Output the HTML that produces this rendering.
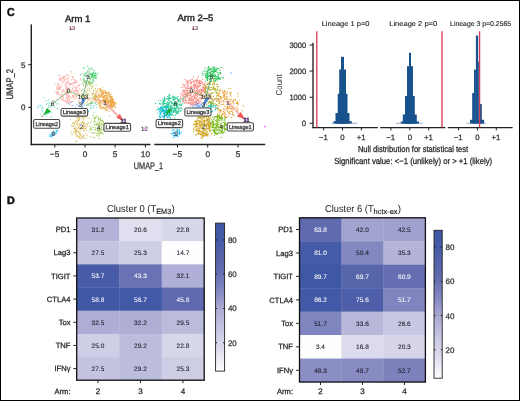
<!DOCTYPE html>
<html><head><meta charset="utf-8"><style>html,body{margin:0;padding:0;background:#fff;width:520px;height:401px;overflow:hidden;}svg{display:block;will-change:transform;text-rendering:geometricPrecision;}</style></head>
<body><svg width="520" height="401" viewBox="0 0 520 401" font-family='"Liberation Sans", sans-serif'><text x="6.9" y="15.5" font-size="11.6" font-weight="bold" textLength="7.6" lengthAdjust="spacingAndGlyphs" fill="#111" stroke="#111" stroke-width="0.5">C</text>
<text x="7.0" y="203.8" font-size="10.8" font-weight="bold" textLength="7.8" lengthAdjust="spacingAndGlyphs" fill="#111" stroke="#111" stroke-width="0.5">D</text>
<line x1="31.3" y1="24.4" x2="31.3" y2="145.2" stroke="#222" stroke-width="1.45"/>
<line x1="30.6" y1="144.4" x2="150.5" y2="144.4" stroke="#222" stroke-width="1.45"/>
<line x1="154.2" y1="144.4" x2="265.2" y2="144.4" stroke="#222" stroke-width="1.45"/>
<line x1="28.2" y1="64.7" x2="31" y2="64.7" stroke="#222" stroke-width="1"/>
<text x="25.5" y="67.5" font-size="8" text-anchor="end" fill="#333" stroke="#333" stroke-width="0.25">5</text>
<line x1="28.2" y1="107.4" x2="31" y2="107.4" stroke="#222" stroke-width="1"/>
<text x="25.5" y="110.2" font-size="8" text-anchor="end" fill="#333" stroke="#333" stroke-width="0.25">0</text>
<line x1="54.8" y1="144.5" x2="54.8" y2="147.5" stroke="#222" stroke-width="1"/>
<text x="54.599999999999994" y="156.6" font-size="8.3" text-anchor="middle" fill="#333" stroke="#333" stroke-width="0.25">−5</text>
<line x1="85.1" y1="144.5" x2="85.1" y2="147.5" stroke="#222" stroke-width="1"/>
<text x="85.1" y="156.6" font-size="8.3" text-anchor="middle" fill="#333" stroke="#333" stroke-width="0.25">0</text>
<line x1="115.1" y1="144.5" x2="115.1" y2="147.5" stroke="#222" stroke-width="1"/>
<text x="115.1" y="156.6" font-size="8.3" text-anchor="middle" fill="#333" stroke="#333" stroke-width="0.25">5</text>
<line x1="145.4" y1="144.5" x2="145.4" y2="147.5" stroke="#222" stroke-width="1"/>
<text x="145.4" y="156.6" font-size="8.3" text-anchor="middle" fill="#333" stroke="#333" stroke-width="0.25">10</text>
<line x1="177.5" y1="144.5" x2="177.5" y2="147.5" stroke="#222" stroke-width="1"/>
<text x="177.3" y="156.6" font-size="8.3" text-anchor="middle" fill="#333" stroke="#333" stroke-width="0.25">−5</text>
<line x1="207.7" y1="144.5" x2="207.7" y2="147.5" stroke="#222" stroke-width="1"/>
<text x="207.7" y="156.6" font-size="8.3" text-anchor="middle" fill="#333" stroke="#333" stroke-width="0.25">0</text>
<line x1="238.0" y1="144.5" x2="238.0" y2="147.5" stroke="#222" stroke-width="1"/>
<text x="238.0" y="156.6" font-size="8.3" text-anchor="middle" fill="#333" stroke="#333" stroke-width="0.25">5</text>
<text x="133.8" y="169.4" font-size="9.6" textLength="29.3" lengthAdjust="spacingAndGlyphs" fill="#333" stroke="#333" stroke-width="0.25">UMAP_1</text>
<text transform="translate(12.8,99.6) rotate(-90)" font-size="9.6" fill="#333" stroke="#333" stroke-width="0.3" textLength="30.7" lengthAdjust="spacingAndGlyphs">UMAP_2</text>
<text x="65" y="22.1" font-size="9.4" textLength="25.4" lengthAdjust="spacingAndGlyphs" fill="#222" stroke="#222" stroke-width="0.4">Arm 1</text>
<text x="177.5" y="21.1" font-size="9.4" textLength="35.8" lengthAdjust="spacingAndGlyphs" fill="#222" stroke="#222" stroke-width="0.4">Arm 2–5</text>
<path d="M65.9 93.9h.1M75.9 93.5h.1M78.0 93.4h.1M71.3 90.8h.1M70.0 84.6h.1M59.9 79.2h.1M54.8 100.7h.1M66.6 95.2h.1M70.1 83.6h.1M63.3 82.5h.1M71.6 90.8h.1M62.0 92.4h.1M61.7 91.2h.1M66.1 82.4h.1M56.9 86.9h.1M64.5 105.8h.1M68.2 83.5h.1M77.5 91.8h.1M57.9 83.2h.1M64.9 78.8h.1M57.4 92.5h.1M55.0 91.5h.1M60.8 77.9h.1M66.4 97.5h.1M77.2 90.5h.1M79.6 94.3h.1M57.1 99.4h.1M57.3 85.0h.1M72.2 83.4h.1M60.9 99.2h.1M70.9 93.8h.1M68.9 98.7h.1M67.9 89.9h.1M61.8 96.7h.1M64.9 79.6h.1M66.8 86.1h.1M70.1 76.1h.1M60.2 96.3h.1M71.3 90.6h.1M66.3 92.1h.1M76.2 96.1h.1M64.5 85.5h.1M62.2 98.7h.1M76.2 88.6h.1M71.3 91.3h.1M66.9 103.1h.1M78.7 85.0h.1M76.6 90.7h.1M74.5 80.2h.1M64.7 93.3h.1M57.6 86.5h.1M69.8 101.4h.1M74.5 79.0h.1M67.6 82.3h.1M66.5 91.2h.1M67.4 100.6h.1M57.0 93.4h.1M75.0 86.6h.1M69.0 97.1h.1M76.9 81.5h.1M59.8 75.3h.1M77.0 82.4h.1M63.0 89.8h.1M62.7 99.9h.1M62.0 94.4h.1M67.1 82.4h.1M80.4 79.2h.1M77.7 87.6h.1M62.0 86.8h.1M62.9 80.8h.1M57.8 94.3h.1M69.5 95.8h.1M68.5 99.7h.1M64.2 91.5h.1M63.1 96.5h.1M74.4 83.9h.1M59.2 88.9h.1M76.7 90.2h.1M69.5 83.5h.1M66.6 78.7h.1M59.1 87.8h.1M75.1 95.5h.1M66.2 101.1h.1M58.3 84.4h.1M59.2 92.8h.1M58.0 88.1h.1M59.9 87.0h.1M64.5 76.6h.1M67.5 99.5h.1M71.0 83.5h.1M75.1 93.0h.1M71.2 71.5h.1M65.6 84.5h.1M73.5 87.7h.1M61.3 94.8h.1M70.4 84.1h.1M59.6 88.0h.1M67.7 87.1h.1M66.5 89.7h.1M59.2 78.8h.1M71.4 73.0h.1M78.3 92.0h.1M73.4 95.6h.1M71.6 79.8h.1M57.8 83.4h.1M63.8 76.9h.1M58.0 75.9h.1M78.2 94.3h.1M63.3 97.8h.1M67.5 94.0h.1M68.3 94.2h.1M70.0 96.5h.1M68.4 81.5h.1M71.7 97.8h.1M78.2 90.2h.1M71.1 98.0h.1M76.5 96.8h.1M57.0 89.4h.1M58.1 88.5h.1M62.0 99.7h.1M63.0 82.3h.1M73.5 91.3h.1M67.8 96.9h.1M74.8 80.7h.1M68.3 96.6h.1M72.4 96.8h.1M79.5 85.7h.1M68.4 102.7h.1M67.8 89.4h.1M57.3 91.0h.1M75.6 89.3h.1M69.7 89.5h.1M69.0 99.7h.1M68.0 77.6h.1M73.4 83.0h.1M72.6 88.5h.1M66.4 86.7h.1M75.4 82.0h.1M69.7 84.2h.1M57.0 88.6h.1M72.2 79.5h.1M63.9 78.4h.1M72.3 90.0h.1M76.7 96.8h.1M61.4 81.0h.1M67.3 89.1h.1M67.9 79.1h.1M66.3 86.0h.1M68.0 92.8h.1M67.3 82.7h.1M76.3 87.5h.1M58.2 90.5h.1M59.8 80.3h.1M67.7 101.1h.1M66.5 88.2h.1M63.3 78.7h.1M65.8 98.7h.1M64.0 90.0h.1M71.7 102.1h.1M76.1 90.0h.1M75.9 87.1h.1M71.8 106.2h.1M73.5 96.9h.1M75.3 98.4h.1M75.6 81.3h.1M75.4 82.6h.1M60.0 89.5h.1M72.5 95.3h.1M68.3 88.5h.1M70.2 84.9h.1M65.4 76.1h.1M62.8 95.3h.1M61.9 84.5h.1M67.4 93.2h.1M65.4 102.2h.1M67.0 101.3h.1M78.9 85.4h.1M60.2 79.2h.1M54.8 84.1h.1M58.1 92.7h.1M67.4 92.0h.1M73.7 95.9h.1M64.9 100.5h.1M67.4 100.3h.1M59.8 85.4h.1M71.0 101.9h.1M70.1 102.1h.1M63.2 90.8h.1M66.0 92.5h.1M67.5 99.6h.1M68.0 80.0h.1M60.7 87.7h.1M73.8 91.8h.1M74.0 96.1h.1M71.6 84.1h.1M68.1 97.9h.1M78.6 85.3h.1M70.1 89.3h.1M74.5 83.1h.1M75.5 89.0h.1M73.1 77.5h.1M68.0 94.9h.1M63.2 76.6h.1M61.7 79.2h.1M65.7 88.1h.1M69.3 102.3h.1M66.6 93.7h.1M60.6 79.1h.1M58.9 87.4h.1M69.9 101.9h.1M56.6 92.4h.1M74.2 82.6h.1M68.2 102.7h.1M67.4 90.9h.1M64.4 80.9h.1M62.3 77.3h.1M74.8 90.7h.1M65.8 83.3h.1M67.2 74.7h.1M63.9 100.7h.1M69.9 101.0h.1M77.5 85.5h.1M59.5 94.7h.1M74.6 99.1h.1M70.1 92.1h.1M77.0 81.1h.1M79.6 88.8h.1M72.6 101.4h.1M77.6 91.3h.1M62.7 95.3h.1M66.7 97.2h.1M78.3 100.8h.1M72.7 77.6h.1M75.9 91.9h.1M72.6 86.0h.1M69.7 87.5h.1M72.4 76.4h.1M78.6 94.1h.1M67.8 75.7h.1M66.4 102.6h.1" stroke="#F8766D" stroke-width="1.2" stroke-linecap="round" stroke-opacity="0.6" fill="none"/>
<path d="M88.5 82.8h.1M88.9 76.5h.1M93.8 72.8h.1M92.3 76.6h.1M95.6 73.9h.1M89.0 81.2h.1M91.7 74.5h.1M88.5 68.8h.1M85.9 73.1h.1M84.3 82.3h.1M89.1 71.6h.1M85.2 74.5h.1M94.2 70.7h.1M90.9 77.3h.1M87.8 70.8h.1M84.2 79.1h.1M88.9 68.6h.1M93.6 81.1h.1M85.1 74.0h.1M90.1 79.8h.1M92.8 82.2h.1M87.0 80.5h.1M85.6 75.8h.1M84.0 67.7h.1M91.7 69.3h.1M93.3 77.3h.1M94.3 75.0h.1M84.5 81.4h.1M88.6 83.0h.1M93.3 79.8h.1M90.0 81.6h.1M88.8 82.2h.1M89.2 76.8h.1M87.7 72.9h.1M90.8 82.8h.1M91.1 77.0h.1M82.8 73.7h.1M87.5 71.2h.1M86.6 83.3h.1M85.2 74.1h.1M93.6 70.0h.1M91.1 83.1h.1M92.7 73.0h.1M83.5 80.2h.1M89.4 76.8h.1M83.4 68.2h.1M84.9 80.9h.1M80.5 74.7h.1M91.7 67.5h.1M95.5 73.2h.1M95.4 78.5h.1M93.5 72.4h.1M92.3 82.0h.1M83.7 80.2h.1M90.3 79.4h.1M83.9 75.3h.1M87.6 66.3h.1M89.1 74.4h.1M93.0 80.2h.1M86.3 72.8h.1M85.0 73.4h.1M83.2 78.3h.1M85.6 76.3h.1M90.1 69.3h.1M91.0 77.8h.1M92.9 78.9h.1M96.3 78.2h.1M90.1 68.8h.1M82.1 83.6h.1M95.0 75.8h.1M91.4 83.4h.1M97.9 73.2h.1M90.6 75.1h.1M89.1 72.8h.1M87.7 85.1h.1M91.8 74.2h.1M84.4 75.8h.1M92.6 82.6h.1M91.3 74.0h.1M92.8 79.9h.1" stroke="#00BA38" stroke-width="1.2" stroke-linecap="round" stroke-opacity="0.6" fill="none"/>
<path d="M92.2 76.8h.1M90.4 73.4h.1M92.7 73.9h.1M93.7 77.5h.1M92.3 76.7h.1M95.6 77.7h.1M93.9 77.0h.1M91.9 74.0h.1M94.7 75.0h.1M92.0 75.7h.1M95.0 75.9h.1M94.2 75.0h.1M95.4 75.9h.1M91.4 73.7h.1M92.9 75.1h.1M94.1 76.3h.1M95.8 73.4h.1M94.0 75.3h.1M92.4 74.4h.1M91.3 75.8h.1M94.0 78.1h.1M92.3 75.9h.1M96.2 75.1h.1M94.8 75.9h.1M91.6 74.9h.1M94.8 76.2h.1M96.7 75.7h.1M93.9 74.8h.1M93.9 73.3h.1M92.4 75.4h.1" stroke="#00BA38" stroke-width="1.2" stroke-linecap="round" stroke-opacity="0.6" fill="none"/>
<path d="M92.5 94.7h.1M85.5 82.6h.1M87.4 101.9h.1M89.4 84.6h.1M81.1 80.1h.1M92.1 93.6h.1M87.7 81.3h.1M84.5 103.0h.1M88.5 104.4h.1M85.7 83.8h.1M80.8 95.1h.1M91.3 86.8h.1M82.7 89.2h.1M95.5 99.0h.1M94.0 100.2h.1M89.1 95.1h.1M83.5 85.5h.1M93.6 96.7h.1M91.0 83.1h.1M94.8 97.5h.1M90.8 91.5h.1M95.2 95.4h.1M83.2 84.9h.1M87.2 98.0h.1M89.3 99.5h.1M92.0 93.8h.1M87.0 85.9h.1M93.5 91.1h.1M87.0 91.6h.1M81.5 97.1h.1M85.7 81.2h.1M94.7 99.5h.1M90.1 103.0h.1M93.6 93.2h.1M89.0 88.1h.1M83.8 102.0h.1M93.4 90.0h.1M85.3 93.0h.1M94.2 98.2h.1M89.5 83.7h.1M83.9 97.4h.1M95.6 99.8h.1M87.4 104.4h.1M82.5 100.8h.1M82.3 95.1h.1M88.1 83.4h.1M86.5 97.2h.1M83.5 82.0h.1M89.1 81.6h.1M91.5 88.3h.1M85.5 80.8h.1M88.1 99.9h.1M91.5 101.4h.1M87.7 89.2h.1M92.0 97.4h.1M89.9 83.1h.1M90.5 103.6h.1M86.9 94.4h.1M89.7 83.3h.1M83.2 85.1h.1M82.3 98.8h.1M82.5 96.9h.1M84.6 95.7h.1M93.1 85.8h.1M92.0 85.1h.1M83.7 94.9h.1M92.2 97.5h.1M86.5 83.7h.1M83.2 96.7h.1M82.5 98.3h.1M90.6 101.9h.1M83.7 98.4h.1M95.9 95.9h.1M95.0 88.9h.1M81.4 90.4h.1M83.3 84.6h.1M79.2 101.4h.1M80.1 102.5h.1M86.8 95.3h.1M87.3 93.8h.1M82.1 97.8h.1M87.6 98.7h.1M95.5 88.6h.1M84.1 97.8h.1M90.3 84.1h.1M84.5 90.8h.1M84.1 100.6h.1M90.2 85.5h.1M85.3 91.7h.1M83.5 101.8h.1M85.1 97.2h.1M88.2 93.6h.1M87.2 98.8h.1M82.8 94.0h.1M85.4 86.9h.1M89.2 90.7h.1M96.2 84.8h.1M87.1 91.4h.1M85.4 87.3h.1M88.7 103.5h.1M92.4 102.3h.1M91.7 102.9h.1M89.3 83.4h.1M90.3 78.7h.1M81.2 91.0h.1M92.4 87.0h.1M88.3 97.5h.1M94.5 96.7h.1M82.1 93.1h.1M95.3 93.5h.1" stroke="#A3A500" stroke-width="1.2" stroke-linecap="round" stroke-opacity="0.6" fill="none"/>
<path d="M96.7 100.1h.1M104.4 107.0h.1M111.4 100.6h.1M110.1 98.0h.1M105.6 95.0h.1M99.1 102.7h.1M110.8 98.1h.1M106.7 110.6h.1M100.2 104.5h.1M109.8 106.1h.1M96.1 100.7h.1M101.8 92.7h.1M108.6 108.0h.1M95.2 94.5h.1M106.3 106.3h.1M92.1 94.1h.1M104.0 90.7h.1M107.0 98.2h.1M96.1 97.4h.1M105.2 92.5h.1M95.7 96.3h.1M99.6 96.4h.1M99.6 107.3h.1M111.1 98.2h.1M98.0 96.2h.1M99.7 91.4h.1M107.2 107.5h.1M101.8 106.9h.1M111.5 99.4h.1M100.6 91.2h.1M103.6 100.9h.1M94.7 98.1h.1M99.5 105.3h.1M107.8 104.0h.1M100.7 97.2h.1M113.8 101.8h.1M99.8 95.3h.1M106.1 101.8h.1M95.9 91.4h.1M111.5 101.1h.1M99.6 106.8h.1M108.4 93.6h.1M93.2 93.5h.1M100.6 95.9h.1M102.6 101.3h.1M97.9 99.5h.1M112.8 105.0h.1M96.1 95.6h.1M104.0 109.3h.1M99.6 91.4h.1M112.7 99.7h.1M102.0 93.3h.1M109.0 94.5h.1M107.0 107.6h.1M104.4 108.9h.1M104.6 90.9h.1M107.4 97.7h.1M95.4 98.6h.1M111.6 98.5h.1M103.2 91.7h.1M102.1 89.9h.1M105.3 92.8h.1M101.7 94.8h.1M105.4 95.8h.1M96.2 93.9h.1M97.4 90.5h.1M112.5 101.5h.1M110.2 107.7h.1M104.0 92.4h.1M99.2 99.1h.1M98.5 94.7h.1M103.1 107.9h.1M109.2 96.1h.1M101.7 95.5h.1M106.0 109.1h.1M109.7 95.1h.1M99.4 99.9h.1M101.6 108.6h.1M100.1 88.6h.1M108.1 99.0h.1M110.4 99.3h.1M99.7 107.0h.1M110.9 100.0h.1M113.7 103.9h.1M96.8 100.0h.1M97.9 95.5h.1M113.6 106.4h.1M105.7 101.9h.1M106.0 110.7h.1M103.4 97.5h.1M96.9 92.6h.1M107.3 99.8h.1M106.7 93.2h.1M93.9 98.0h.1M106.5 103.8h.1M110.3 104.6h.1M110.7 96.5h.1M105.2 95.9h.1M102.6 87.0h.1M113.3 102.2h.1M97.3 97.0h.1M101.4 92.0h.1M110.3 103.5h.1M100.7 100.3h.1M109.2 108.5h.1M101.9 91.6h.1M109.6 115.9h.1M112.3 99.5h.1M110.1 106.4h.1M107.2 104.9h.1M110.1 94.8h.1M109.2 101.3h.1M111.5 99.5h.1M104.7 99.2h.1M105.4 106.0h.1M100.7 101.2h.1M104.8 95.6h.1M108.2 102.2h.1M99.6 95.4h.1M97.1 97.8h.1M111.0 107.0h.1M100.2 90.1h.1M98.8 93.6h.1M111.8 99.4h.1M101.5 89.4h.1M110.9 96.6h.1M103.4 92.2h.1M104.5 104.4h.1M103.3 99.9h.1M100.4 107.6h.1M100.1 89.2h.1M98.6 94.3h.1M112.3 99.8h.1M99.5 103.5h.1M102.8 100.3h.1M108.3 104.9h.1M103.0 97.3h.1M105.2 101.1h.1M97.3 99.4h.1M113.1 102.6h.1M106.9 99.5h.1M99.7 103.0h.1M111.6 103.9h.1M111.5 104.3h.1M112.9 106.2h.1M103.9 106.7h.1M99.2 101.8h.1M100.4 93.4h.1M106.0 107.6h.1M99.4 88.9h.1M103.5 97.4h.1M108.2 93.0h.1M102.2 107.2h.1M101.9 100.6h.1M102.6 100.9h.1M97.9 89.1h.1M99.7 89.1h.1M110.4 98.2h.1M99.0 96.0h.1M105.9 92.9h.1M99.1 102.1h.1M107.2 106.3h.1M111.6 103.1h.1M100.3 101.9h.1M100.5 101.0h.1M107.4 107.3h.1M106.3 103.1h.1M101.8 91.1h.1M99.6 97.3h.1M100.6 105.2h.1M101.2 103.7h.1M110.1 106.9h.1M103.0 99.8h.1M103.3 94.6h.1M100.7 102.8h.1M109.2 111.4h.1M103.3 91.1h.1M100.6 108.3h.1M108.7 92.5h.1M105.7 109.3h.1M102.0 89.7h.1M97.2 91.1h.1M99.3 105.5h.1M104.7 96.7h.1M109.9 96.2h.1M97.7 104.6h.1M102.2 108.2h.1M98.0 98.1h.1M100.3 106.1h.1M103.7 107.7h.1M107.4 110.3h.1M98.7 103.7h.1M111.5 104.2h.1M113.1 101.6h.1M101.6 89.6h.1M109.9 105.8h.1M105.5 99.2h.1M97.8 104.6h.1M95.9 101.9h.1M97.9 102.8h.1M105.3 108.6h.1M107.1 93.6h.1M109.9 101.5h.1M97.3 100.2h.1M107.3 95.2h.1M94.1 95.7h.1M95.4 102.7h.1M109.0 94.6h.1M113.3 103.1h.1M100.1 88.5h.1M103.1 103.6h.1M98.1 103.1h.1M96.3 96.4h.1M110.2 95.0h.1M100.8 93.7h.1M107.7 97.6h.1M94.1 98.4h.1M99.5 100.4h.1M96.1 102.4h.1M103.2 104.5h.1M108.0 101.2h.1M101.0 90.9h.1M105.0 100.0h.1M107.2 109.8h.1M111.1 105.2h.1M98.5 99.2h.1M104.0 102.4h.1M94.8 98.7h.1M97.0 97.2h.1M102.9 93.7h.1" stroke="#E58700" stroke-width="1.2" stroke-linecap="round" stroke-opacity="0.6" fill="none"/>
<path d="M106.3 95.6h.1M109.9 96.8h.1M111.3 104.5h.1M111.2 103.7h.1M104.8 103.2h.1M113.6 104.5h.1M111.8 107.6h.1M108.2 105.1h.1M106.4 95.3h.1M111.4 103.1h.1M112.2 99.0h.1M114.6 104.5h.1M107.2 97.2h.1M105.5 91.4h.1M104.4 95.8h.1M113.9 106.2h.1M113.2 106.2h.1M112.6 107.2h.1M108.5 103.7h.1M115.1 107.8h.1M105.2 100.4h.1M108.3 105.7h.1M110.4 105.7h.1M107.0 95.7h.1M112.8 101.8h.1M105.3 101.9h.1M110.0 102.4h.1M110.7 105.0h.1M103.8 92.7h.1M112.6 102.5h.1M104.1 97.1h.1M102.5 96.1h.1M106.9 95.4h.1M110.2 101.9h.1M102.8 93.4h.1M110.9 102.1h.1M108.1 101.4h.1M105.2 98.4h.1M103.0 99.5h.1M106.6 104.6h.1M111.8 97.4h.1M108.9 101.6h.1M106.6 99.5h.1M116.2 103.2h.1M106.5 97.8h.1M108.0 105.9h.1M109.3 102.3h.1M106.8 105.7h.1M103.0 93.5h.1M107.4 101.1h.1M107.0 104.1h.1M115.7 103.9h.1M106.2 96.0h.1M110.4 96.6h.1M109.3 101.8h.1M107.7 102.8h.1M113.5 103.1h.1M110.7 103.5h.1M106.0 105.0h.1M112.5 109.6h.1M110.2 107.1h.1M106.0 96.9h.1M103.7 98.7h.1M107.2 97.3h.1M108.7 104.1h.1M113.2 105.1h.1M111.7 101.5h.1M108.6 103.4h.1M112.5 96.2h.1M111.3 96.4h.1M107.3 102.4h.1M112.2 97.6h.1M101.7 96.8h.1M110.8 104.1h.1M103.9 92.9h.1M113.1 104.5h.1M108.6 97.6h.1M105.8 93.2h.1M113.8 105.1h.1M108.8 105.5h.1M106.4 95.0h.1M102.1 97.0h.1M108.5 93.7h.1M106.4 101.1h.1M106.3 99.7h.1M112.4 103.2h.1M109.2 100.3h.1M115.5 106.9h.1M106.6 93.3h.1M111.4 106.4h.1M107.3 103.5h.1M102.1 95.5h.1M111.6 102.6h.1M104.1 99.9h.1M109.9 105.3h.1M108.6 94.0h.1M110.2 96.4h.1M112.7 100.0h.1M110.8 106.0h.1M105.2 103.0h.1M110.2 108.5h.1M102.3 95.2h.1M108.7 105.6h.1M104.2 101.1h.1M110.8 101.1h.1M106.2 100.2h.1M109.6 102.3h.1M111.6 105.2h.1M113.5 106.7h.1M106.2 99.6h.1M112.0 100.5h.1M103.3 100.4h.1M114.5 102.7h.1M113.8 101.9h.1M114.4 105.0h.1M106.4 97.1h.1M110.8 100.0h.1M112.2 98.0h.1M104.0 95.9h.1M101.9 97.2h.1M109.3 92.2h.1M109.8 106.8h.1M107.0 97.2h.1M102.7 93.1h.1M113.4 99.2h.1M106.8 97.3h.1M103.9 96.7h.1M106.1 93.4h.1M115.5 102.9h.1M111.3 106.5h.1M114.2 103.8h.1M102.3 94.8h.1M111.4 98.3h.1M107.1 92.4h.1M105.5 93.5h.1M106.7 101.6h.1M108.0 106.4h.1M112.9 100.7h.1M106.4 99.6h.1M105.7 103.3h.1M108.1 100.6h.1M108.3 101.1h.1M109.0 99.0h.1M110.4 104.0h.1M111.6 105.7h.1M111.3 93.9h.1M103.7 92.8h.1M102.8 97.2h.1M111.8 106.9h.1M109.5 95.5h.1" stroke="#E58700" stroke-width="1.2" stroke-linecap="round" stroke-opacity="0.6" fill="none"/>
<path d="M80.6 115.3h.1M76.9 120.4h.1M78.4 127.7h.1M76.5 137.1h.1M77.3 130.6h.1M77.6 131.3h.1M74.9 128.4h.1M78.7 131.9h.1M77.5 135.9h.1M84.3 123.2h.1M77.4 123.7h.1M84.8 125.4h.1M71.5 132.4h.1M83.4 122.1h.1M83.2 126.7h.1M78.9 120.4h.1M81.9 135.2h.1M77.9 121.6h.1M88.4 122.9h.1M83.9 120.0h.1M72.7 123.3h.1M83.3 123.3h.1M80.0 115.9h.1M77.5 117.8h.1M86.1 128.8h.1M73.8 126.3h.1M79.1 126.3h.1M70.4 119.6h.1M79.1 117.8h.1M86.1 137.8h.1M74.8 130.3h.1M73.9 122.6h.1M76.7 135.4h.1M78.3 115.4h.1M77.4 136.2h.1M76.0 127.9h.1M83.4 123.9h.1M76.1 116.9h.1M83.8 125.6h.1M81.3 127.3h.1M71.5 125.8h.1M77.2 130.9h.1M83.9 122.7h.1M80.4 138.4h.1M76.9 120.5h.1M75.6 127.8h.1M87.1 134.9h.1M72.1 134.7h.1M73.5 132.4h.1M77.4 121.8h.1M79.6 134.2h.1M82.0 136.4h.1M76.9 141.5h.1M84.1 135.7h.1M79.2 136.8h.1M79.1 133.0h.1M82.5 122.8h.1M75.6 121.2h.1M82.7 122.2h.1M75.5 134.5h.1M83.1 136.6h.1M79.5 128.7h.1M90.4 127.0h.1M82.7 129.0h.1M83.9 129.9h.1M78.4 114.5h.1M83.8 127.2h.1M79.4 123.7h.1M80.7 135.0h.1M84.5 125.6h.1M85.1 133.5h.1M83.9 138.7h.1M77.3 126.0h.1M72.3 126.3h.1M81.7 138.0h.1M79.4 118.3h.1M81.5 127.1h.1M75.0 131.1h.1M86.6 126.7h.1M74.3 123.5h.1M87.4 124.7h.1M76.4 130.2h.1M84.9 124.7h.1M77.4 128.5h.1M86.2 126.3h.1M79.8 135.8h.1M80.3 133.8h.1M82.2 110.4h.1M77.1 135.0h.1M75.7 141.4h.1M83.5 118.9h.1M83.9 125.8h.1M79.8 118.3h.1M75.4 131.6h.1M78.0 119.6h.1M76.4 124.4h.1M79.3 137.9h.1M79.0 117.1h.1M80.5 130.6h.1M74.3 124.4h.1M82.1 118.2h.1M73.8 128.5h.1M87.2 117.1h.1M84.1 114.7h.1M80.0 130.0h.1M81.9 117.5h.1M84.3 130.1h.1M78.2 118.1h.1M82.8 112.1h.1M76.1 132.7h.1M76.8 131.3h.1M83.6 126.6h.1M83.2 127.9h.1M79.3 133.0h.1M81.2 122.7h.1M82.3 121.6h.1M81.7 116.5h.1M85.1 128.3h.1M79.0 119.4h.1M75.7 117.0h.1M75.4 132.3h.1M82.8 137.5h.1M75.5 133.3h.1M86.3 130.7h.1M74.4 124.6h.1M80.1 124.0h.1M74.7 128.0h.1M75.3 130.4h.1M74.8 129.2h.1M83.0 116.9h.1M78.7 127.5h.1M73.4 122.4h.1M83.8 131.5h.1M81.9 128.2h.1M78.3 124.8h.1M78.2 114.7h.1M74.7 130.7h.1M83.7 113.0h.1M79.4 125.9h.1M79.4 132.3h.1M79.8 137.6h.1M73.8 125.3h.1M84.8 117.7h.1M79.8 133.2h.1M76.2 132.1h.1M75.8 122.2h.1M82.4 137.4h.1M84.3 128.2h.1M74.9 131.1h.1M78.9 137.0h.1" stroke="#C99800" stroke-width="1.2" stroke-linecap="round" stroke-opacity="0.6" fill="none"/>
<path d="M95.4 117.3h.1M90.0 128.7h.1M98.3 124.3h.1M95.9 124.3h.1M104.4 130.8h.1M90.8 122.7h.1M94.2 118.7h.1M99.4 138.6h.1M97.9 130.2h.1M101.6 124.0h.1M96.7 135.5h.1M98.0 128.0h.1M103.6 128.4h.1M97.6 133.6h.1M94.3 124.5h.1M92.7 137.3h.1M102.7 125.0h.1M94.8 122.3h.1M101.3 129.8h.1M89.2 130.9h.1M102.2 132.7h.1M102.1 123.3h.1M93.2 133.1h.1M99.1 124.7h.1M100.8 120.2h.1M99.4 128.0h.1M102.4 120.3h.1M98.2 125.2h.1M101.3 124.8h.1M96.1 124.1h.1M93.5 127.5h.1M99.9 134.0h.1M103.6 130.1h.1M98.4 118.5h.1M104.0 128.0h.1M100.9 131.6h.1M92.0 132.7h.1M101.0 123.9h.1M101.1 120.4h.1M98.9 123.6h.1M94.5 125.2h.1M99.8 132.3h.1M94.8 129.3h.1M97.8 129.4h.1M100.7 120.9h.1M104.3 126.9h.1M98.4 118.7h.1M98.0 136.2h.1M101.6 127.2h.1M94.6 137.9h.1M97.6 133.7h.1M96.5 123.6h.1M89.1 118.4h.1M94.6 117.6h.1M98.9 119.7h.1M104.3 126.7h.1M95.1 127.6h.1M96.2 116.0h.1M99.6 130.2h.1M104.4 124.5h.1M91.8 126.9h.1M102.4 121.3h.1M98.9 133.5h.1M97.5 123.0h.1M95.2 129.3h.1M92.8 115.4h.1M103.6 122.3h.1M100.3 118.2h.1M90.7 129.6h.1M99.8 122.0h.1M86.7 123.2h.1M97.9 121.1h.1M97.4 130.4h.1M97.4 133.0h.1M94.5 118.3h.1M98.4 117.3h.1M103.4 122.7h.1M102.2 130.2h.1M93.9 132.5h.1M97.1 125.4h.1M99.5 126.3h.1M91.9 129.8h.1M95.2 130.0h.1M100.3 119.5h.1M100.3 128.7h.1M91.3 128.9h.1M103.2 133.9h.1M98.6 130.8h.1M94.7 129.6h.1M91.5 120.0h.1M89.7 126.0h.1M100.3 125.7h.1M100.3 133.2h.1M101.8 123.7h.1M97.0 133.7h.1M100.5 120.5h.1M103.4 121.9h.1M102.3 129.6h.1M101.4 124.4h.1M93.9 121.5h.1M93.8 117.5h.1M90.2 136.4h.1M94.7 119.2h.1M97.0 116.6h.1M97.0 124.1h.1M101.8 133.4h.1M100.5 132.0h.1M101.5 127.8h.1M94.5 121.9h.1M95.6 133.1h.1M103.0 124.9h.1M94.9 120.5h.1M95.4 118.0h.1M100.0 132.5h.1M98.5 118.7h.1M99.2 123.2h.1M99.4 131.9h.1M91.5 132.6h.1M98.6 131.1h.1M98.4 131.4h.1M100.0 129.2h.1M91.5 132.5h.1M99.0 135.1h.1M100.1 119.2h.1M95.8 129.6h.1" stroke="#6BB100" stroke-width="1.2" stroke-linecap="round" stroke-opacity="0.6" fill="none"/>
<path d="M50.6 136.3h.1M53.0 132.8h.1M55.8 130.8h.1M51.6 134.2h.1M57.5 130.7h.1M51.9 136.6h.1M53.8 133.8h.1M52.7 132.4h.1M53.7 132.7h.1M50.1 134.6h.1M51.3 133.5h.1M56.5 130.3h.1M51.2 136.7h.1M56.0 133.3h.1M50.0 136.2h.1M56.1 132.5h.1M49.6 136.7h.1M50.8 135.1h.1M53.9 135.2h.1M54.0 132.3h.1M52.8 132.5h.1M55.9 130.4h.1M49.2 134.8h.1M51.7 133.3h.1M56.8 131.4h.1M53.7 134.3h.1M56.9 131.7h.1M53.7 132.1h.1M57.4 131.1h.1M57.5 130.2h.1M56.4 131.6h.1M53.6 133.0h.1M55.4 132.6h.1M52.7 135.2h.1M55.9 134.2h.1M54.0 131.0h.1M56.6 131.2h.1M56.9 131.3h.1M50.9 135.0h.1M51.5 134.6h.1M57.3 130.3h.1M52.2 137.1h.1M55.9 132.6h.1M52.1 133.3h.1M55.1 133.4h.1M55.6 133.5h.1M51.9 135.2h.1M54.7 133.5h.1" stroke="#00B0F6" stroke-width="1.2" stroke-linecap="round" stroke-opacity="0.6" fill="none"/>
<path d="M43.7 97.6h.1M57.0 103.9h.1M46.4 104.3h.1M53.1 100.6h.1M46.3 114.8h.1M54.1 106.7h.1M40.6 114.5h.1M43.1 108.0h.1M48.3 100.2h.1M55.3 102.3h.1M49.2 102.8h.1M42.0 106.8h.1M57.4 108.3h.1M57.3 103.7h.1M46.2 100.8h.1M49.6 103.4h.1" stroke="#00BF7D" stroke-width="1.2" stroke-linecap="round" stroke-opacity="0.6" fill="none"/>
<path d="M37.6 107.5h.1M47.2 103.5h.1M42.4 110.5h.1M38.3 105.7h.1M42.1 108.2h.1M51.7 107.4h.1M48.1 113.5h.1M38.1 107.7h.1M42.6 111.8h.1M51.5 112.8h.1M41.1 105.0h.1M40.1 105.6h.1M51.0 116.9h.1M49.5 112.5h.1M45.8 116.0h.1M48.6 105.3h.1" stroke="#00BCD8" stroke-width="1.2" stroke-linecap="round" stroke-opacity="0.6" fill="none"/>
<path d="M78.7 105.3h.1M76.7 104.0h.1M79.8 104.1h.1M82.5 103.5h.1M75.6 107.4h.1M83.1 107.7h.1M80.0 109.8h.1M82.3 107.5h.1M76.4 104.9h.1M68.3 103.6h.1M70.9 102.6h.1M77.9 105.5h.1M74.0 108.7h.1M84.1 105.6h.1M73.0 105.4h.1M78.3 109.1h.1M69.1 104.0h.1M82.0 100.9h.1M72.6 109.9h.1M84.8 104.4h.1M81.7 107.5h.1M70.0 104.6h.1" stroke="#619CFF" stroke-width="1.2" stroke-linecap="round" stroke-opacity="0.6" fill="none"/>
<path d="M86.7 105.4h.1M90.3 103.6h.1M95.1 103.2h.1M93.7 105.3h.1M93.9 112.4h.1M90.1 105.6h.1M88.1 110.9h.1M96.6 107.5h.1M91.5 103.4h.1M91.1 105.4h.1M90.1 108.4h.1M96.1 104.9h.1M91.8 103.6h.1M93.0 103.1h.1M88.8 111.6h.1M82.4 106.5h.1M88.0 105.0h.1M85.4 110.6h.1M93.5 107.6h.1M91.7 107.7h.1" stroke="#00C0AF" stroke-width="1.2" stroke-linecap="round" stroke-opacity="0.6" fill="none"/>
<path d="M70.7 28.0h.1M70.6 28.4h.1M71.0 28.6h.1M72.2 29.1h.1M71.9 28.9h.1" stroke="#FD61D1" stroke-width="1.2" stroke-linecap="round" stroke-opacity="0.6" fill="none"/>
<path d="M144.1 128.4h.1M144.4 129.3h.1M144.2 129.4h.1M145.3 128.8h.1M144.6 128.5h.1" stroke="#E76BF3" stroke-width="1.2" stroke-linecap="round" stroke-opacity="0.6" fill="none"/>
<path d="M122.5 121.0h.1M123.4 120.1h.1M122.5 121.8h.1M123.7 121.6h.1M123.1 119.9h.1M124.0 120.2h.1M122.3 119.9h.1M124.7 121.2h.1M122.8 119.8h.1M123.7 120.6h.1" stroke="#B983FF" stroke-width="1.2" stroke-linecap="round" stroke-opacity="0.6" fill="none"/>
<path d="M198.0 103.7h.1M195.0 87.1h.1M191.1 99.7h.1M196.6 97.6h.1M189.8 99.1h.1M192.5 99.2h.1M185.5 97.5h.1M196.4 90.5h.1M199.8 86.6h.1M197.4 99.7h.1M196.2 95.5h.1M194.4 98.3h.1M195.3 95.0h.1M182.9 90.6h.1M197.6 96.3h.1M186.4 84.1h.1M197.4 89.5h.1M187.2 88.0h.1M193.4 95.8h.1M202.0 90.4h.1M199.1 98.2h.1M192.8 102.8h.1M198.7 103.4h.1M194.0 93.4h.1M192.4 91.2h.1M196.9 82.5h.1M185.6 89.0h.1M196.7 103.1h.1M197.7 80.1h.1M198.9 90.3h.1M187.1 80.2h.1M201.3 97.2h.1M197.5 82.3h.1M180.4 96.9h.1M191.6 101.0h.1M202.2 91.8h.1M191.8 86.6h.1M192.8 105.3h.1M191.1 104.9h.1M187.2 94.2h.1M202.5 96.9h.1M202.4 95.1h.1M185.3 91.9h.1M196.5 100.6h.1M195.0 96.6h.1M186.0 81.3h.1M195.0 101.9h.1M183.1 95.4h.1M204.2 84.9h.1M204.6 91.2h.1M194.8 93.4h.1M187.0 103.2h.1M185.5 93.9h.1M200.6 83.5h.1M196.4 97.6h.1M187.8 83.1h.1M201.2 92.5h.1M190.7 88.2h.1M191.6 98.1h.1M182.8 85.5h.1M191.0 83.9h.1M194.8 90.9h.1M193.5 80.9h.1M194.4 104.9h.1M191.7 100.6h.1M193.0 100.5h.1M199.5 89.9h.1M185.5 97.9h.1M196.4 98.7h.1M197.5 94.5h.1M190.7 92.7h.1M202.9 91.4h.1M195.2 80.9h.1M204.3 97.4h.1M204.1 92.8h.1M191.5 82.2h.1M199.1 92.5h.1M190.1 97.5h.1M188.5 82.1h.1M190.1 86.2h.1M195.7 84.4h.1M194.9 104.9h.1M189.3 102.3h.1M197.4 93.8h.1M198.4 92.6h.1M188.3 88.8h.1M187.5 90.7h.1M194.5 95.9h.1M194.4 85.2h.1M195.8 84.3h.1M193.8 104.8h.1M197.4 95.0h.1M184.5 96.6h.1M202.8 79.2h.1M193.7 103.1h.1M198.6 84.8h.1M190.1 87.8h.1M198.4 100.8h.1M190.6 100.1h.1M194.5 89.7h.1M192.6 99.1h.1M194.3 81.6h.1M193.2 99.4h.1M191.9 96.9h.1M199.5 81.0h.1M204.4 92.5h.1M184.5 103.2h.1M195.5 94.2h.1M196.4 104.2h.1M187.4 91.5h.1M187.9 88.6h.1M184.3 85.9h.1M186.2 95.7h.1M193.4 85.9h.1M184.4 90.3h.1M186.8 96.3h.1M205.6 90.5h.1M191.3 82.7h.1M198.2 90.7h.1M190.4 83.4h.1M198.9 82.1h.1M201.5 104.2h.1M196.4 87.0h.1M195.2 101.4h.1M194.5 97.4h.1M185.9 93.5h.1M197.9 92.6h.1M197.8 79.8h.1M182.8 90.3h.1M189.2 99.8h.1M195.8 85.3h.1M199.0 101.9h.1M191.7 98.4h.1M198.3 93.2h.1M190.3 96.0h.1M189.8 95.7h.1M202.2 83.0h.1M203.2 96.2h.1M205.2 87.8h.1M203.1 84.7h.1M187.5 96.2h.1M190.3 94.0h.1M201.4 89.7h.1M203.7 87.4h.1M204.5 89.6h.1M196.7 80.6h.1M190.1 102.2h.1M197.5 88.8h.1M185.4 100.0h.1M203.1 84.3h.1M197.3 103.9h.1M193.3 77.1h.1M188.0 86.9h.1M200.0 81.7h.1M192.8 99.7h.1M198.7 100.4h.1M192.9 96.7h.1M193.4 101.0h.1M201.7 81.5h.1M190.3 80.6h.1M203.8 88.3h.1M204.8 85.8h.1M200.6 85.3h.1M183.1 94.8h.1M193.0 100.0h.1M207.8 92.6h.1M201.3 97.1h.1M196.0 80.9h.1M201.8 83.3h.1M191.7 103.4h.1M191.7 104.4h.1M186.8 93.0h.1M199.3 91.2h.1M183.8 102.3h.1M181.3 87.4h.1M202.1 94.9h.1M194.2 104.6h.1M198.9 80.4h.1M200.8 90.6h.1M204.9 87.8h.1M183.9 87.4h.1M196.4 101.8h.1M184.9 93.8h.1M189.9 99.7h.1M189.7 91.5h.1M196.0 80.6h.1M189.3 103.8h.1M199.2 90.2h.1M196.2 80.6h.1M195.0 85.1h.1M196.7 91.5h.1M189.2 92.3h.1M193.8 87.1h.1M190.6 79.8h.1M197.3 85.0h.1M184.9 94.7h.1M195.0 99.0h.1M186.3 101.0h.1M182.4 93.0h.1M204.5 91.5h.1M195.7 98.9h.1M201.3 92.8h.1M187.0 93.3h.1M189.6 93.9h.1M193.4 91.3h.1M195.9 84.2h.1M201.4 90.3h.1M188.3 100.1h.1M198.3 76.4h.1M203.0 85.0h.1M193.6 84.3h.1M187.6 86.5h.1M206.4 87.1h.1M186.0 90.4h.1M200.7 89.2h.1M203.4 90.5h.1M188.2 97.6h.1M197.5 86.1h.1M187.2 95.2h.1M189.1 88.4h.1M197.5 88.1h.1M200.1 95.4h.1M195.6 99.1h.1M196.9 80.9h.1M202.7 91.7h.1M200.4 101.7h.1M193.5 103.5h.1M190.6 93.6h.1M197.8 82.3h.1M196.5 93.8h.1M195.5 79.8h.1M194.3 102.3h.1M200.9 92.9h.1M186.7 92.9h.1M190.6 104.9h.1M194.7 85.6h.1M182.8 100.7h.1M193.9 89.6h.1M199.5 83.4h.1M202.6 87.6h.1M182.9 96.5h.1M204.1 89.3h.1M181.2 98.4h.1M200.9 80.6h.1M184.5 94.6h.1M196.0 83.6h.1M205.2 92.3h.1M188.7 98.1h.1M204.2 88.5h.1M202.8 82.3h.1M186.4 100.6h.1M191.9 87.6h.1M188.2 90.4h.1M200.8 101.4h.1M196.3 102.9h.1M202.9 89.2h.1M197.5 91.5h.1M198.3 100.0h.1M184.0 92.7h.1M197.3 78.6h.1M195.2 85.9h.1M190.1 99.2h.1M205.7 91.2h.1M187.1 83.8h.1M183.2 91.7h.1M205.0 91.8h.1M197.6 106.8h.1M183.4 84.0h.1M188.5 95.0h.1M203.3 98.3h.1M196.1 91.1h.1M184.3 90.8h.1M183.1 101.3h.1M197.8 87.5h.1M190.1 95.6h.1M183.9 90.4h.1M199.5 90.5h.1M188.9 80.9h.1M191.1 83.3h.1M190.3 92.2h.1M200.6 83.3h.1M191.7 100.9h.1M208.9 93.1h.1M187.7 86.2h.1M185.9 90.9h.1M186.0 97.0h.1M191.3 87.9h.1M183.5 98.6h.1M196.5 101.4h.1M185.7 96.0h.1M199.3 95.3h.1M190.9 83.1h.1M194.0 84.0h.1M191.2 83.1h.1M193.3 84.2h.1M186.4 102.7h.1M197.8 92.6h.1M192.5 105.2h.1M193.0 81.3h.1M203.1 94.7h.1M196.4 92.9h.1M200.4 92.8h.1M200.8 95.0h.1M186.9 81.3h.1M194.6 109.1h.1M188.6 103.4h.1M185.2 101.4h.1M194.2 88.6h.1M197.7 92.8h.1M191.7 96.6h.1M192.3 79.4h.1M202.7 94.7h.1M195.5 102.9h.1M184.1 99.0h.1M195.7 98.4h.1M197.1 87.7h.1M188.3 85.1h.1M192.6 90.9h.1M190.8 103.3h.1M199.6 86.0h.1M187.5 95.0h.1M191.8 102.8h.1M185.7 92.0h.1M191.2 86.8h.1M191.2 94.7h.1M187.5 93.3h.1M201.0 91.2h.1M185.4 101.1h.1M188.5 92.9h.1M204.6 83.4h.1M200.0 97.9h.1M199.1 101.3h.1M189.7 90.0h.1M180.5 93.8h.1M199.0 94.0h.1M193.7 95.9h.1M200.4 94.0h.1M193.5 85.9h.1M194.1 82.2h.1M184.9 84.9h.1M198.3 99.5h.1M193.5 102.9h.1M198.4 86.4h.1M201.4 83.2h.1M197.5 101.8h.1M184.2 79.4h.1M196.6 88.4h.1M200.6 98.0h.1M185.7 98.7h.1M195.0 85.0h.1M193.0 92.1h.1M205.9 84.2h.1M194.8 87.5h.1M193.9 91.0h.1M204.9 85.8h.1M204.3 88.8h.1M187.3 82.1h.1M205.3 91.7h.1M187.5 90.5h.1M186.0 88.3h.1M189.5 100.4h.1M181.8 94.9h.1M188.5 102.4h.1M198.8 83.6h.1M202.4 90.4h.1M189.4 99.2h.1M200.0 85.1h.1M192.7 100.9h.1M189.2 98.3h.1M195.6 86.1h.1M199.5 82.7h.1M190.9 81.9h.1M201.2 99.2h.1M185.8 87.2h.1" stroke="#F8766D" stroke-width="1.2" stroke-linecap="round" stroke-opacity="0.85" fill="none"/>
<path d="M214.4 70.6h.1M218.9 78.2h.1M207.9 74.4h.1M205.9 74.5h.1M217.6 68.3h.1M208.8 76.0h.1M214.4 76.7h.1M219.9 70.7h.1M217.8 68.3h.1M215.6 80.2h.1M218.9 78.9h.1M207.8 77.5h.1M218.3 74.6h.1M218.2 74.3h.1M209.5 79.4h.1M213.5 75.0h.1M208.1 70.3h.1M216.5 72.0h.1M207.8 71.7h.1M208.9 69.4h.1M215.8 76.4h.1M208.6 76.3h.1M219.3 79.0h.1M215.6 71.1h.1M211.8 75.0h.1M214.6 70.4h.1M202.7 75.2h.1M213.9 79.9h.1M216.4 69.4h.1M213.8 71.7h.1M213.1 69.0h.1M218.3 77.0h.1M215.1 75.3h.1M207.5 76.2h.1M211.2 68.9h.1M216.0 78.7h.1M205.3 81.1h.1M209.9 77.4h.1M207.0 71.8h.1M211.0 75.9h.1M208.2 73.1h.1M215.8 70.4h.1M217.9 72.8h.1M216.6 79.2h.1M207.9 75.6h.1M214.4 69.1h.1M206.9 79.3h.1M219.8 72.5h.1M206.2 74.1h.1M208.7 69.1h.1M211.1 71.8h.1M215.9 78.7h.1M210.0 73.1h.1M210.7 72.2h.1M210.3 69.0h.1M214.2 68.4h.1M205.8 76.4h.1M213.1 69.5h.1M220.6 72.7h.1M220.4 79.2h.1M220.1 72.9h.1M215.0 71.4h.1M211.9 73.9h.1M205.8 76.5h.1M202.1 72.0h.1M212.3 75.0h.1M215.1 74.8h.1M215.5 76.1h.1M211.5 81.1h.1M218.8 68.6h.1M214.3 70.2h.1M215.7 68.0h.1M219.9 77.9h.1M204.9 67.9h.1M205.7 75.5h.1M215.7 80.9h.1M212.7 67.2h.1M211.2 69.6h.1M214.7 81.2h.1M204.8 73.6h.1M212.8 67.0h.1M214.3 78.3h.1M210.0 70.0h.1M217.6 79.9h.1M202.8 73.6h.1M207.5 80.4h.1M209.1 70.1h.1M209.5 72.3h.1M220.6 74.1h.1M216.1 69.1h.1M210.9 72.1h.1M210.9 80.7h.1M209.7 67.9h.1M208.6 66.6h.1M206.9 77.3h.1M217.1 70.0h.1M209.7 72.5h.1M207.5 72.8h.1M213.6 73.2h.1M213.5 75.4h.1M205.3 70.8h.1M210.5 80.0h.1M206.9 71.3h.1M210.8 74.2h.1M211.8 71.3h.1M212.7 71.6h.1M214.3 72.8h.1M217.7 76.4h.1M213.0 78.1h.1M207.8 78.8h.1M216.7 76.8h.1M218.5 77.9h.1M218.3 73.9h.1M206.0 77.8h.1M212.1 75.9h.1M207.4 73.6h.1M213.9 67.2h.1M215.4 78.3h.1M207.2 77.3h.1M206.7 75.4h.1M203.9 71.0h.1M221.1 67.3h.1M207.7 68.9h.1M216.2 77.0h.1M212.5 70.6h.1M208.2 67.6h.1M210.0 79.2h.1M217.8 78.4h.1M214.2 70.0h.1M214.0 71.6h.1M223.1 78.1h.1M210.6 76.3h.1M206.0 73.9h.1M210.4 81.0h.1M209.3 75.4h.1M210.0 79.4h.1M207.2 78.1h.1M214.3 75.0h.1M215.7 71.6h.1M213.5 69.0h.1M205.7 77.3h.1M213.5 79.6h.1M218.5 75.1h.1M210.9 79.4h.1M222.1 77.4h.1M212.7 73.0h.1M217.7 78.2h.1M213.5 76.5h.1M209.9 73.7h.1M209.3 75.9h.1M214.0 72.6h.1" stroke="#00BA38" stroke-width="1.2" stroke-linecap="round" stroke-opacity="0.85" fill="none"/>
<path d="M218.4 99.7h.1M205.2 85.8h.1M209.9 84.4h.1M210.8 103.4h.1M210.8 102.0h.1M210.6 106.1h.1M207.1 93.2h.1M205.2 92.8h.1M205.6 98.9h.1M219.5 91.7h.1M215.8 90.9h.1M209.2 89.5h.1M207.7 84.4h.1M219.8 99.4h.1M209.4 89.5h.1M211.4 89.4h.1M216.4 98.1h.1M211.1 89.7h.1M208.0 97.9h.1M209.7 83.3h.1M207.1 98.2h.1M215.0 103.8h.1M213.4 81.2h.1M214.1 88.0h.1M210.3 81.7h.1M215.0 88.7h.1M207.6 94.0h.1M214.2 82.5h.1M209.9 87.4h.1M213.3 100.8h.1M211.2 87.4h.1M208.5 102.7h.1M211.3 102.4h.1M211.3 93.9h.1M211.9 93.2h.1M212.6 99.8h.1M210.5 84.1h.1M212.1 99.4h.1M206.5 101.6h.1M219.0 103.5h.1M214.4 83.7h.1M213.2 88.6h.1M211.3 103.2h.1M205.7 88.3h.1M205.8 86.3h.1M207.8 90.2h.1M210.2 95.8h.1M209.9 81.9h.1M208.0 83.1h.1M206.9 95.7h.1M210.9 96.6h.1M213.4 87.4h.1M214.8 89.6h.1M208.1 103.1h.1M205.3 96.6h.1M216.1 104.8h.1M211.0 93.5h.1M205.3 99.2h.1M216.1 84.4h.1M212.3 99.6h.1M206.9 98.9h.1M209.2 101.4h.1M213.5 100.5h.1M216.9 95.7h.1M209.5 81.8h.1M205.5 87.2h.1M211.4 105.2h.1M208.0 98.9h.1M217.5 99.1h.1M209.8 90.6h.1M217.5 84.4h.1M219.2 96.2h.1M210.7 104.4h.1M215.1 89.3h.1M208.8 97.5h.1M208.6 88.4h.1M217.4 89.1h.1M202.8 86.9h.1M205.5 89.7h.1M208.0 87.2h.1M205.4 90.9h.1M216.5 93.6h.1M220.8 98.2h.1M213.2 87.4h.1M213.0 103.0h.1M208.4 88.8h.1M218.8 90.0h.1M212.1 101.6h.1M206.7 104.5h.1M213.4 79.3h.1M201.2 93.7h.1M207.3 98.3h.1M216.8 96.1h.1M209.8 102.5h.1M217.2 100.4h.1M216.5 101.5h.1M213.6 104.4h.1M212.0 93.4h.1M213.1 89.7h.1M212.9 83.5h.1M216.6 92.3h.1M215.9 89.8h.1M209.0 82.9h.1M211.4 98.9h.1M216.9 101.4h.1M212.3 103.0h.1M217.1 100.3h.1M211.1 96.5h.1M212.7 84.9h.1M213.4 96.3h.1M215.2 88.5h.1M218.5 99.3h.1M208.1 83.4h.1M210.7 93.7h.1M212.4 103.6h.1M213.3 84.5h.1M215.5 98.3h.1M210.3 105.3h.1M210.5 103.9h.1M207.1 93.9h.1M217.0 90.0h.1M214.6 88.4h.1M216.5 98.1h.1M214.9 99.6h.1M207.1 93.9h.1M217.1 86.9h.1M211.5 81.5h.1M210.0 101.1h.1M206.8 95.7h.1M218.4 86.6h.1M214.9 92.0h.1M207.2 84.4h.1M213.3 92.9h.1M214.1 86.3h.1M213.6 103.1h.1M209.0 95.8h.1M211.7 89.4h.1M212.9 100.2h.1M205.3 87.8h.1M208.4 86.9h.1M205.9 91.9h.1M217.1 92.2h.1M209.1 95.4h.1M207.0 88.2h.1" stroke="#A3A500" stroke-width="1.2" stroke-linecap="round" stroke-opacity="0.85" fill="none"/>
<path d="M229.8 111.7h.1M219.0 112.0h.1M229.1 107.4h.1M224.4 90.7h.1M225.1 94.6h.1M223.9 104.2h.1M221.8 97.1h.1M226.9 94.1h.1M221.0 98.5h.1M236.6 103.3h.1M229.0 113.4h.1M230.7 108.7h.1M219.8 110.4h.1M226.2 93.1h.1M221.6 116.4h.1M220.3 96.5h.1M233.5 106.9h.1M227.2 102.5h.1M230.0 92.9h.1M227.7 110.8h.1M228.4 116.0h.1M223.8 93.5h.1M233.1 100.9h.1M239.8 100.5h.1M222.9 114.2h.1M233.6 114.8h.1M222.6 90.8h.1M232.7 114.3h.1M218.7 95.4h.1M220.2 111.1h.1M232.6 112.8h.1M224.2 98.2h.1M226.5 108.2h.1M220.6 90.6h.1M237.8 110.2h.1M230.5 113.8h.1M231.3 92.5h.1M222.9 92.6h.1M231.5 117.4h.1M233.2 102.5h.1M232.2 111.7h.1M237.0 102.5h.1M237.2 101.5h.1M229.5 108.2h.1M231.6 106.8h.1M219.3 101.9h.1M217.3 105.3h.1M225.5 116.9h.1M219.1 102.8h.1M237.0 111.2h.1M237.9 108.7h.1M236.3 103.3h.1M216.8 104.6h.1M215.9 108.2h.1M217.7 116.7h.1M233.8 103.9h.1M222.4 104.5h.1M235.9 107.7h.1M232.0 107.3h.1M218.1 110.0h.1M221.8 114.9h.1M238.0 96.0h.1M229.7 101.1h.1M224.1 91.8h.1M242.2 110.7h.1M223.3 96.8h.1M219.5 116.9h.1M223.0 114.6h.1M226.7 96.3h.1M237.8 102.5h.1M221.1 97.1h.1M237.7 93.4h.1M219.9 89.6h.1M221.1 110.6h.1M227.6 106.4h.1M228.1 108.1h.1M223.4 95.3h.1M217.9 94.7h.1M227.5 103.5h.1M243.4 105.8h.1M228.7 88.5h.1M217.9 107.9h.1M226.5 98.9h.1M223.6 109.1h.1M219.9 109.7h.1M230.4 95.7h.1M232.6 101.3h.1M227.2 108.9h.1M237.7 103.3h.1M230.4 93.9h.1M224.6 96.4h.1M232.7 113.0h.1M225.7 98.2h.1M227.2 91.6h.1M233.8 108.0h.1M222.8 93.1h.1M218.9 105.8h.1M218.8 97.0h.1M218.2 107.7h.1M234.0 108.8h.1M221.5 110.8h.1M223.8 111.5h.1M230.8 101.5h.1M223.6 111.6h.1M224.8 112.7h.1M231.1 99.4h.1M227.0 107.4h.1M227.5 97.3h.1M219.9 93.6h.1M224.8 109.7h.1M230.7 88.5h.1M235.3 99.8h.1M229.5 106.1h.1M237.3 106.0h.1M218.2 109.6h.1M223.5 102.0h.1M223.6 108.9h.1M224.8 99.4h.1M225.8 114.2h.1M217.5 114.4h.1M226.3 117.4h.1M226.6 117.4h.1M218.3 98.5h.1M230.9 103.7h.1M232.1 109.6h.1M230.9 96.1h.1M221.0 102.0h.1M232.1 108.7h.1M229.8 99.1h.1M231.1 111.2h.1M224.3 95.2h.1M222.4 113.9h.1M220.3 113.1h.1M233.9 99.9h.1M223.9 112.8h.1M224.7 114.8h.1M220.9 104.8h.1M218.2 93.2h.1M225.1 106.4h.1M233.6 115.2h.1M226.8 110.9h.1M228.7 112.3h.1M225.0 92.2h.1M223.1 100.5h.1M230.2 114.0h.1M219.5 101.5h.1M235.4 99.4h.1M238.2 104.3h.1M227.7 99.4h.1M224.6 116.3h.1M232.0 106.2h.1" stroke="#E58700" stroke-width="1.2" stroke-linecap="round" stroke-opacity="0.85" fill="none"/>
<path d="M179.2 104.9h.1M168.8 113.8h.1M178.8 108.2h.1M173.3 112.4h.1M170.6 110.3h.1M164.4 97.2h.1M174.0 108.8h.1M162.9 105.4h.1M169.0 96.2h.1M182.2 109.0h.1M175.8 112.4h.1M174.6 110.1h.1M169.1 102.8h.1M173.1 97.4h.1M168.4 110.3h.1M175.3 110.7h.1M163.9 103.9h.1M175.9 109.2h.1M177.4 98.4h.1M161.0 103.9h.1M176.3 111.0h.1M167.4 112.0h.1M177.9 111.2h.1M173.5 96.6h.1M176.4 113.3h.1M164.3 112.2h.1M160.9 108.3h.1M167.1 112.8h.1M175.3 101.8h.1M162.1 111.5h.1M164.3 103.8h.1M177.9 99.8h.1M174.7 108.4h.1M180.1 108.3h.1M162.9 103.4h.1M167.4 104.9h.1M173.8 108.4h.1M164.2 98.7h.1M173.2 104.8h.1M171.3 102.0h.1M171.1 101.9h.1M178.2 100.7h.1M164.8 106.7h.1M172.3 97.5h.1M169.6 98.7h.1M163.7 113.4h.1M162.6 108.4h.1M155.5 103.4h.1M168.8 98.8h.1M174.3 110.9h.1M173.5 100.3h.1M168.9 104.0h.1M164.9 103.5h.1M167.6 106.9h.1M174.8 99.3h.1M167.4 113.6h.1M181.1 104.4h.1M172.2 102.9h.1M175.5 110.9h.1M176.0 97.1h.1M170.8 107.6h.1M178.0 108.7h.1M166.7 99.0h.1M167.6 114.6h.1M168.8 99.0h.1M170.0 108.0h.1M167.0 103.0h.1M177.9 99.3h.1M165.9 106.3h.1M169.6 94.6h.1M166.6 110.9h.1M178.2 112.3h.1M175.8 102.7h.1M175.4 115.2h.1M171.8 103.7h.1M169.3 95.6h.1M175.8 109.9h.1M160.0 103.8h.1M181.1 107.6h.1M164.4 103.7h.1M180.3 101.9h.1M170.0 117.8h.1M175.7 104.2h.1M165.8 103.5h.1M168.5 103.4h.1M178.8 109.8h.1M172.4 108.3h.1M172.8 99.2h.1M180.9 104.1h.1M169.3 113.5h.1M169.4 97.5h.1M163.6 110.3h.1M174.6 117.9h.1M166.7 104.2h.1M166.1 107.7h.1M163.6 101.8h.1M169.6 102.3h.1M174.1 96.9h.1M170.9 106.7h.1M163.7 101.4h.1M171.2 114.0h.1M171.3 108.8h.1M174.6 109.1h.1M176.7 105.5h.1M166.1 106.7h.1M168.6 100.3h.1M171.9 109.1h.1M156.8 110.0h.1M166.3 98.6h.1M170.9 98.8h.1M167.1 98.5h.1M173.4 112.6h.1M179.2 99.7h.1M168.0 110.4h.1M170.1 100.8h.1M177.4 106.0h.1M162.3 109.3h.1M172.4 111.9h.1M176.1 108.3h.1M170.2 97.7h.1M170.3 105.6h.1M168.9 106.7h.1M167.2 102.5h.1M161.3 111.3h.1M164.6 100.7h.1M170.6 105.3h.1M166.1 114.9h.1M176.4 107.3h.1M171.8 102.8h.1M164.3 110.8h.1M160.4 109.9h.1M178.7 101.6h.1M171.8 107.5h.1M166.4 98.6h.1M169.4 116.0h.1M176.9 106.8h.1M180.4 110.3h.1M170.8 105.4h.1M177.7 111.8h.1M173.1 96.0h.1M178.9 111.3h.1M165.2 105.5h.1M177.1 111.9h.1M162.2 110.7h.1M161.0 100.9h.1M183.7 99.8h.1M171.4 111.9h.1M173.2 105.8h.1M178.1 113.6h.1M168.1 98.8h.1M166.8 111.8h.1M167.5 96.5h.1M176.0 98.6h.1M162.6 110.9h.1M168.5 110.6h.1M169.1 94.9h.1M174.5 98.7h.1M164.2 103.4h.1M176.6 113.8h.1M174.7 104.2h.1M167.8 105.9h.1M163.1 104.2h.1M162.7 102.1h.1M172.6 97.1h.1M171.7 101.8h.1M167.7 101.9h.1M176.1 106.2h.1M170.7 106.5h.1M170.7 112.0h.1M164.9 112.4h.1M169.8 97.3h.1M178.9 100.2h.1M173.5 103.7h.1M167.0 104.6h.1M163.9 100.2h.1M165.1 101.1h.1M175.8 97.7h.1M181.0 111.2h.1M173.6 115.3h.1M173.9 100.4h.1M170.0 113.9h.1M171.5 114.9h.1M172.1 109.5h.1M164.9 99.5h.1M177.9 96.7h.1M173.5 111.1h.1M164.4 114.0h.1M174.9 108.6h.1M168.2 105.6h.1M168.0 104.2h.1M171.0 114.0h.1M164.8 114.6h.1M163.3 109.6h.1M180.1 105.3h.1M168.7 97.8h.1M182.7 103.8h.1M165.6 107.9h.1M172.2 114.7h.1M162.2 109.9h.1M181.5 105.3h.1M169.7 114.6h.1M177.3 103.4h.1M177.9 107.2h.1M169.2 109.2h.1M174.6 107.9h.1M166.0 112.1h.1M166.5 109.2h.1M176.2 105.0h.1M166.5 114.2h.1M170.8 105.1h.1M165.8 110.9h.1M177.6 104.5h.1M179.1 104.1h.1M174.8 98.3h.1M159.3 103.7h.1M164.3 112.0h.1M176.3 102.9h.1M174.6 102.9h.1M157.8 107.0h.1M171.4 103.2h.1M172.4 97.3h.1M178.2 112.7h.1M173.5 99.4h.1M163.5 106.9h.1M174.7 107.3h.1M158.9 100.5h.1M167.0 106.7h.1M178.8 101.8h.1M162.6 99.8h.1M168.5 104.7h.1M174.0 111.7h.1M164.0 102.5h.1M176.4 112.9h.1M166.9 114.9h.1M182.4 100.0h.1M165.2 107.6h.1M173.9 103.8h.1M180.7 104.0h.1" stroke="#00BF7D" stroke-width="1.2" stroke-linecap="round" stroke-opacity="0.85" fill="none"/>
<path d="M168.2 114.7h.1M165.2 109.3h.1M165.3 111.9h.1M169.5 115.2h.1M167.5 110.6h.1M164.7 113.6h.1M159.2 116.1h.1M164.2 110.8h.1M162.4 111.5h.1M160.7 113.2h.1M163.5 109.6h.1M164.0 117.2h.1M173.3 110.4h.1M164.9 107.5h.1M162.3 110.5h.1M160.2 108.7h.1M165.2 112.0h.1M164.2 115.3h.1M169.3 115.7h.1M157.9 109.5h.1M159.9 108.3h.1M167.0 114.0h.1M166.5 113.0h.1M166.0 107.4h.1M169.7 110.9h.1M158.6 109.6h.1M159.6 114.0h.1M162.6 109.9h.1M162.4 116.0h.1M169.4 112.6h.1M159.3 108.6h.1M161.9 109.5h.1M159.4 111.7h.1M165.0 107.4h.1M164.4 117.9h.1M168.8 110.4h.1M170.9 112.9h.1M162.1 115.7h.1M166.8 115.3h.1M161.8 106.7h.1M164.4 113.2h.1M158.5 109.2h.1M168.7 109.8h.1M163.6 116.3h.1M164.2 112.0h.1M166.3 116.9h.1M157.8 113.0h.1M165.5 112.6h.1M159.9 109.0h.1M169.1 113.0h.1M162.8 110.8h.1M161.8 111.3h.1M170.3 109.2h.1M165.2 110.2h.1M166.6 107.0h.1M164.3 111.3h.1M169.8 110.5h.1M169.6 115.7h.1M168.3 116.7h.1M160.5 107.1h.1M170.3 114.8h.1M170.6 109.6h.1M167.7 117.7h.1M168.5 109.4h.1M161.4 107.3h.1M163.8 116.2h.1M164.9 114.6h.1M163.5 110.6h.1M168.1 111.4h.1M163.8 113.8h.1M170.2 106.4h.1M161.0 108.9h.1M161.5 111.6h.1M167.2 114.6h.1M159.9 110.1h.1M160.2 112.2h.1M170.5 112.8h.1M171.1 108.0h.1M163.2 117.7h.1M159.7 108.6h.1M167.1 107.9h.1M166.4 109.2h.1M163.2 113.4h.1M162.6 107.8h.1M165.8 110.8h.1M162.5 107.6h.1M164.3 115.1h.1M160.8 117.3h.1M168.1 111.4h.1M168.7 115.0h.1M170.4 110.5h.1M163.0 120.6h.1M165.6 110.7h.1M161.8 108.8h.1M160.6 109.0h.1M168.8 108.9h.1M160.7 107.3h.1M167.9 109.7h.1M167.5 111.5h.1M169.4 113.8h.1M167.9 116.7h.1M167.4 106.9h.1M163.4 107.3h.1M166.4 107.2h.1M166.3 115.4h.1M168.4 107.5h.1M166.6 111.9h.1M170.5 115.0h.1M159.6 115.9h.1M161.3 108.8h.1M168.1 111.1h.1M161.2 112.4h.1M166.5 106.2h.1M170.2 118.2h.1M166.7 114.6h.1M164.7 107.7h.1M160.4 114.7h.1M168.3 110.9h.1M159.8 117.9h.1M160.1 116.7h.1M160.9 113.5h.1M163.4 117.2h.1" stroke="#00BCD8" stroke-width="1.2" stroke-linecap="round" stroke-opacity="0.85" fill="none"/>
<path d="M201.9 119.0h.1M196.7 121.6h.1M200.6 126.7h.1M204.4 129.5h.1M198.9 134.2h.1M203.1 131.6h.1M199.5 122.3h.1M200.6 118.3h.1M199.4 117.2h.1M207.6 122.7h.1M209.0 130.3h.1M199.6 130.0h.1M202.9 132.1h.1M195.2 124.3h.1M208.5 117.1h.1M205.8 125.6h.1M207.4 118.6h.1M196.8 128.8h.1M202.6 129.0h.1M196.3 120.1h.1M199.3 122.2h.1M204.6 133.9h.1M202.0 127.9h.1M194.7 123.3h.1M200.6 134.7h.1M201.7 122.9h.1M200.3 125.1h.1M207.7 122.4h.1M196.0 130.5h.1M198.9 121.8h.1M206.0 135.3h.1M198.5 131.2h.1M203.4 127.0h.1M206.5 133.2h.1M206.3 133.0h.1M209.5 124.5h.1M210.8 125.9h.1M204.0 123.2h.1M199.3 125.8h.1M210.3 130.4h.1M206.1 133.5h.1M201.1 114.1h.1M200.9 118.4h.1M206.2 116.1h.1M202.4 135.9h.1M207.4 122.9h.1M199.8 115.5h.1M198.2 127.0h.1M199.7 118.0h.1M203.9 125.3h.1M211.5 133.5h.1M203.5 129.2h.1M200.7 118.4h.1M195.6 121.3h.1M197.7 123.1h.1M202.0 121.4h.1M209.3 120.6h.1M201.1 128.7h.1M210.4 115.0h.1M204.9 117.5h.1M204.8 131.1h.1M202.2 117.4h.1M206.4 119.7h.1M203.9 132.9h.1M198.8 132.1h.1M210.8 125.8h.1M194.6 121.4h.1M203.9 129.3h.1M201.4 124.7h.1M199.7 124.7h.1M207.4 120.7h.1M200.8 122.8h.1M201.6 122.3h.1M200.5 134.2h.1M209.1 119.4h.1M200.4 112.6h.1M201.9 132.7h.1M196.6 121.4h.1M201.9 133.9h.1M197.2 126.3h.1M207.3 136.1h.1M207.6 115.7h.1M204.5 124.3h.1M203.5 127.0h.1M207.2 134.7h.1M201.5 127.6h.1M199.1 133.1h.1M213.2 121.8h.1M207.7 119.7h.1M205.2 130.7h.1M205.1 133.5h.1M203.7 116.3h.1M209.3 130.5h.1M200.4 120.9h.1M197.4 130.4h.1M205.8 129.9h.1M209.3 125.9h.1M202.0 118.6h.1M194.2 126.8h.1M202.6 133.8h.1M204.0 130.3h.1M198.1 133.2h.1M202.0 137.1h.1M201.2 122.2h.1M196.5 125.3h.1M210.4 118.2h.1M206.3 120.8h.1M209.7 113.4h.1M203.1 135.3h.1M195.6 127.3h.1M210.8 124.6h.1M202.4 115.6h.1M196.2 125.1h.1M207.1 116.2h.1M200.8 117.4h.1M202.7 124.1h.1M206.6 124.0h.1M206.6 127.7h.1M210.0 127.1h.1M205.7 120.7h.1M199.3 130.6h.1M196.0 122.1h.1M202.8 128.7h.1M203.0 136.3h.1M205.4 134.1h.1M200.8 124.5h.1M204.4 116.5h.1M201.5 128.5h.1M202.5 114.8h.1M201.8 125.3h.1M209.8 136.0h.1M204.2 118.8h.1M209.3 124.6h.1M207.0 124.1h.1M201.1 131.9h.1M198.7 116.2h.1M206.3 135.4h.1M193.4 124.5h.1M204.6 115.1h.1M208.1 128.0h.1M199.1 120.5h.1M197.0 122.9h.1M202.0 131.7h.1M208.5 114.0h.1M209.1 118.9h.1M208.2 124.6h.1M202.0 125.0h.1M195.6 126.8h.1M201.7 128.4h.1M206.2 110.8h.1M206.6 117.3h.1M204.4 120.7h.1M204.4 135.8h.1M205.4 126.0h.1M207.0 132.5h.1M203.9 136.1h.1M198.5 118.0h.1M210.0 129.0h.1M196.9 124.2h.1M203.2 116.6h.1M198.3 124.3h.1M209.0 115.9h.1M197.7 120.6h.1M196.4 124.4h.1M196.0 124.0h.1M206.0 129.0h.1M199.6 131.4h.1M209.9 124.9h.1M199.9 111.1h.1M207.7 123.2h.1M205.1 116.5h.1M198.9 128.4h.1M202.0 114.2h.1M203.3 120.2h.1M206.6 125.2h.1M206.2 134.5h.1M199.6 128.0h.1M202.4 126.6h.1M203.2 114.2h.1M202.2 138.8h.1M198.9 116.6h.1M193.8 131.9h.1M210.0 130.3h.1M206.1 114.1h.1M209.7 127.4h.1M206.5 134.8h.1M201.0 137.7h.1M195.7 134.6h.1M196.1 122.2h.1M205.4 125.9h.1M194.6 124.5h.1M204.8 135.3h.1M207.8 135.2h.1M202.7 135.0h.1M201.1 118.8h.1M202.7 124.0h.1M206.8 120.8h.1M198.5 116.0h.1M196.0 124.0h.1M208.8 126.7h.1M200.4 131.2h.1M200.4 134.2h.1M193.9 128.7h.1M202.8 114.8h.1M206.9 134.8h.1M199.5 117.8h.1M196.8 131.1h.1M203.2 116.3h.1M208.3 133.6h.1M199.2 121.1h.1M202.0 115.7h.1M196.0 125.8h.1M205.0 123.2h.1M209.3 125.8h.1M207.6 128.3h.1M204.5 122.6h.1M203.8 121.2h.1M208.0 122.1h.1M204.0 132.3h.1M208.5 121.7h.1M195.8 130.2h.1M205.9 125.6h.1M206.3 129.1h.1M201.2 124.6h.1M201.0 127.0h.1M196.5 134.6h.1M208.3 128.9h.1M203.5 121.2h.1M198.0 133.9h.1M199.8 121.5h.1M198.1 123.8h.1M207.4 129.0h.1M198.4 129.8h.1M205.6 115.9h.1M202.1 120.0h.1M207.3 125.6h.1M202.9 123.3h.1M209.5 131.1h.1M197.5 118.1h.1M193.4 129.7h.1M198.2 115.8h.1M196.8 123.7h.1M205.6 132.8h.1M202.9 135.4h.1M200.5 118.2h.1M199.7 126.0h.1M206.5 134.7h.1M207.3 118.9h.1M208.4 119.1h.1M203.2 133.6h.1M203.8 122.9h.1M200.2 131.3h.1M210.9 123.7h.1M210.5 122.0h.1M199.7 123.0h.1M196.0 125.9h.1M198.2 118.3h.1M207.3 131.6h.1M209.1 123.9h.1M208.8 128.3h.1M204.3 134.0h.1M209.7 125.8h.1M196.7 125.7h.1M198.4 124.0h.1M199.1 133.9h.1M204.5 117.2h.1M204.5 121.7h.1M208.6 125.7h.1M210.4 122.0h.1M200.4 125.1h.1M199.7 124.4h.1M206.4 126.3h.1M206.0 124.9h.1M204.2 118.6h.1M206.9 125.7h.1M204.5 122.0h.1M209.0 117.6h.1M209.0 127.9h.1M203.3 134.9h.1M207.2 131.4h.1M203.1 117.1h.1M206.6 124.3h.1M205.3 133.5h.1M196.0 123.8h.1M200.4 133.6h.1M210.2 128.4h.1M196.3 129.4h.1M208.9 122.8h.1M210.1 123.3h.1M211.7 134.5h.1M208.9 121.2h.1M197.6 118.8h.1M203.4 128.2h.1M200.3 126.2h.1M202.6 130.9h.1M197.9 118.3h.1M198.0 128.0h.1M198.6 132.9h.1M200.8 135.2h.1M200.2 115.7h.1M209.8 124.7h.1M203.7 110.0h.1" stroke="#C99800" stroke-width="1.2" stroke-linecap="round" stroke-opacity="0.85" fill="none"/>
<path d="M215.4 127.1h.1M213.6 123.7h.1M224.5 127.9h.1M217.4 119.1h.1M222.5 125.5h.1M215.5 124.3h.1M220.4 125.0h.1M220.5 123.3h.1M213.5 124.6h.1M214.4 117.5h.1M221.2 123.3h.1M216.0 133.7h.1M225.4 123.2h.1M210.5 123.3h.1M213.2 121.5h.1M213.9 119.7h.1M216.0 116.4h.1M213.9 123.9h.1M218.5 130.3h.1M217.3 121.8h.1M212.6 124.8h.1M223.6 126.1h.1M225.3 130.3h.1M217.8 125.4h.1M215.0 133.7h.1M218.3 132.5h.1M212.5 124.0h.1M224.3 129.1h.1M219.4 115.3h.1M221.1 121.1h.1M225.8 125.3h.1M213.9 127.0h.1M219.8 133.3h.1M222.7 126.7h.1M218.2 130.3h.1M213.9 132.0h.1M222.1 129.3h.1M217.7 133.0h.1M220.3 125.8h.1M222.3 129.9h.1M218.0 115.3h.1M212.1 130.0h.1M225.1 117.7h.1M224.1 120.2h.1M226.3 129.4h.1M220.6 117.6h.1M224.9 124.9h.1M215.8 132.9h.1M216.7 128.5h.1M214.5 127.9h.1M217.8 115.2h.1M221.9 120.0h.1M221.4 115.7h.1M217.1 116.3h.1M224.2 122.9h.1M224.4 125.3h.1M226.5 125.0h.1M219.9 124.5h.1M220.3 117.0h.1M216.7 125.2h.1M219.4 118.1h.1M220.8 118.4h.1M212.6 125.8h.1M215.6 132.6h.1M216.9 119.5h.1M225.2 121.8h.1M216.1 130.3h.1M224.4 126.6h.1M225.5 128.7h.1M225.4 124.9h.1M219.1 115.9h.1M224.8 117.5h.1M214.5 124.5h.1M211.8 127.6h.1M228.7 123.1h.1M214.7 130.3h.1M218.7 119.5h.1M214.5 131.5h.1M214.3 117.2h.1M226.1 125.3h.1M214.8 117.8h.1M213.4 131.5h.1M218.0 116.0h.1M215.0 127.9h.1M210.5 132.0h.1M220.4 117.8h.1M217.0 133.3h.1M214.4 130.7h.1M222.6 118.6h.1M216.5 120.9h.1M216.1 123.0h.1M217.3 129.6h.1M214.9 131.6h.1M218.1 126.3h.1M213.6 122.6h.1M209.2 120.9h.1M215.4 120.7h.1M225.0 118.8h.1M214.2 129.0h.1M223.7 131.8h.1M219.0 127.3h.1M210.4 122.9h.1M214.8 130.7h.1M217.2 120.6h.1M218.4 120.2h.1M225.6 128.9h.1M221.9 131.1h.1M214.8 132.5h.1M219.1 117.0h.1M212.9 124.4h.1M213.5 130.5h.1M213.9 129.6h.1M216.2 130.5h.1M220.1 130.8h.1M221.0 131.4h.1M211.6 119.7h.1M221.3 132.4h.1M219.6 129.7h.1M215.7 133.3h.1M220.2 118.9h.1M220.5 131.5h.1M224.5 129.8h.1M216.8 133.9h.1M212.3 124.2h.1M218.9 119.9h.1M217.6 123.7h.1M218.0 118.1h.1M223.9 128.5h.1M220.7 127.1h.1M212.4 126.7h.1M226.0 124.0h.1M213.4 123.3h.1M221.6 117.4h.1M218.9 132.1h.1M218.2 124.4h.1M216.2 126.3h.1M212.9 122.0h.1M212.7 116.9h.1M222.4 132.6h.1M221.1 128.2h.1M212.7 127.4h.1M218.9 128.5h.1M216.5 127.4h.1M222.3 132.3h.1M218.1 127.4h.1M224.2 129.1h.1M209.5 126.4h.1M224.9 119.8h.1M214.1 127.8h.1M215.8 129.1h.1M223.6 132.4h.1M214.6 132.9h.1M216.8 126.3h.1M217.1 134.4h.1M224.4 123.8h.1M224.9 129.0h.1M217.6 133.9h.1M224.6 124.2h.1M223.2 122.4h.1M217.9 114.3h.1M219.3 120.1h.1M216.6 124.1h.1M212.6 130.1h.1M216.1 126.9h.1M213.6 119.2h.1M218.5 126.4h.1M216.7 117.6h.1M221.3 117.7h.1M224.2 131.9h.1M221.6 127.3h.1M216.5 134.1h.1M213.7 125.6h.1M216.6 133.9h.1M212.4 120.9h.1M219.0 116.3h.1M217.5 122.2h.1M216.3 130.1h.1M222.5 117.7h.1M211.7 122.8h.1M217.4 123.2h.1M221.5 126.0h.1M221.2 133.2h.1M222.6 133.2h.1M214.9 116.7h.1M212.3 126.5h.1M218.3 122.3h.1M217.4 117.7h.1M223.4 132.2h.1M221.2 137.4h.1M216.9 121.5h.1M211.9 122.0h.1M222.0 118.3h.1M214.5 135.3h.1M213.4 124.4h.1M221.8 119.4h.1M216.7 126.0h.1M219.2 120.6h.1M222.7 127.6h.1M219.1 117.9h.1M225.5 124.9h.1M217.7 121.8h.1M220.7 125.8h.1M214.3 129.1h.1M222.2 128.9h.1M218.5 116.2h.1M221.1 131.2h.1M221.0 130.3h.1M220.2 125.0h.1M213.7 126.8h.1" stroke="#6BB100" stroke-width="1.2" stroke-linecap="round" stroke-opacity="0.85" fill="none"/>
<path d="M179.4 133.2h.1M174.3 129.9h.1M179.5 134.5h.1M172.2 133.6h.1M177.9 136.0h.1M177.6 136.7h.1M178.4 130.6h.1M177.3 129.4h.1M173.5 135.4h.1M173.2 137.6h.1M177.7 133.6h.1M179.3 132.2h.1M174.4 136.6h.1M175.0 132.3h.1M177.7 132.3h.1M179.2 134.0h.1M172.6 131.0h.1M179.3 130.1h.1M179.3 130.8h.1M176.0 136.1h.1M180.1 133.3h.1M173.2 132.9h.1M174.3 136.3h.1M173.0 129.9h.1M177.3 131.5h.1M174.8 135.3h.1M174.8 132.9h.1M177.2 129.4h.1M174.7 135.5h.1M176.7 135.4h.1M177.6 135.3h.1M175.1 133.5h.1M173.9 133.2h.1M172.3 133.6h.1M181.4 132.3h.1M173.2 133.7h.1M177.0 130.3h.1M177.1 129.8h.1M175.1 135.3h.1M170.8 133.6h.1" stroke="#00B0F6" stroke-width="1.2" stroke-linecap="round" stroke-opacity="0.85" fill="none"/>
<path d="M196.6 103.4h.1M199.5 105.7h.1M196.2 109.9h.1M200.4 108.9h.1M197.4 103.3h.1M204.8 108.4h.1M198.0 104.3h.1M202.3 107.4h.1M192.6 107.9h.1M190.6 106.0h.1M197.4 106.8h.1M202.1 109.5h.1M195.5 108.8h.1M201.7 109.9h.1M206.1 109.3h.1M198.2 109.4h.1M200.8 106.3h.1M196.5 105.6h.1M192.8 108.3h.1M197.2 107.1h.1M200.9 104.6h.1M198.1 106.4h.1M198.1 105.8h.1M201.2 105.4h.1M196.1 109.5h.1M195.2 110.2h.1M203.0 107.0h.1M194.7 109.8h.1M197.7 105.5h.1M198.2 110.8h.1M204.0 106.1h.1M192.6 105.8h.1M201.4 104.3h.1M203.1 109.8h.1M196.7 105.2h.1M195.1 106.6h.1M199.8 103.7h.1M197.6 104.7h.1M203.8 105.2h.1M197.5 107.0h.1M201.6 104.3h.1M199.3 106.4h.1M199.0 110.1h.1M193.8 104.6h.1M199.6 107.3h.1M193.8 107.6h.1M207.0 107.0h.1M193.8 107.5h.1M195.6 104.5h.1M202.8 108.5h.1" stroke="#619CFF" stroke-width="1.2" stroke-linecap="round" stroke-opacity="0.85" fill="none"/>
<path d="M211.2 108.7h.1M210.2 111.4h.1M211.3 107.4h.1M213.8 105.4h.1M206.1 109.6h.1M208.5 110.3h.1M212.9 111.0h.1M210.7 107.7h.1M211.2 106.6h.1M209.2 105.3h.1M217.6 108.5h.1M203.7 107.3h.1M210.9 102.9h.1M207.4 110.3h.1M206.1 110.1h.1M204.0 109.0h.1M207.8 111.7h.1M208.5 106.9h.1M212.6 111.2h.1M209.9 106.2h.1M215.4 109.7h.1M215.9 106.5h.1M213.0 105.5h.1M215.7 109.3h.1M208.1 105.9h.1M215.6 106.3h.1M211.4 104.2h.1M208.8 108.6h.1M207.3 108.2h.1M211.0 112.7h.1M212.4 106.3h.1M210.4 110.5h.1M211.1 111.6h.1M213.7 107.1h.1M210.7 105.0h.1M215.9 107.7h.1M209.8 108.6h.1M211.0 105.1h.1M215.8 105.6h.1M211.7 111.6h.1M205.7 109.3h.1M205.4 109.3h.1M206.3 107.2h.1" stroke="#00C0AF" stroke-width="1.2" stroke-linecap="round" stroke-opacity="0.85" fill="none"/>
<path d="M193.0 28.6h.1M192.5 28.8h.1M193.2 28.4h.1M193.4 29.1h.1M192.7 28.9h.1M193.9 29.1h.1" stroke="#FD61D1" stroke-width="1.2" stroke-linecap="round" stroke-opacity="0.85" fill="none"/>
<path d="M247.6 119.8h.1M247.6 119.2h.1M245.3 120.3h.1M244.5 119.8h.1M246.0 118.5h.1M244.6 119.5h.1M247.6 119.0h.1M245.5 119.3h.1M246.8 119.2h.1M246.0 120.7h.1M244.2 118.5h.1M245.1 119.4h.1M244.4 119.0h.1M246.2 120.6h.1" stroke="#B983FF" stroke-width="1.2" stroke-linecap="round" stroke-opacity="0.85" fill="none"/>
<path d="M231.1 72.8h.1M230.7 73.3h.1M230.8 73.2h.1" stroke="#619CFF" stroke-width="1.2" stroke-linecap="round" stroke-opacity="0.85" fill="none"/>
<path d="M265.1 127.2h.1M265.3 126.4h.1M264.4 126.5h.1" stroke="#E76BF3" stroke-width="1.2" stroke-linecap="round" stroke-opacity="0.85" fill="none"/>
<line x1="52.6" y1="104" x2="68.4" y2="91" stroke="#5cb85c" stroke-width="0.7"/>
<line x1="68.4" y1="91" x2="82" y2="97" stroke="#5cb85c" stroke-width="0.7"/>
<line x1="83" y1="96" x2="88.1" y2="76.5" stroke="#3a9a8a" stroke-width="0.7"/>
<line x1="86" y1="97.5" x2="105" y2="102.6" stroke="#f0a090" stroke-width="0.7"/>
<line x1="105" y1="102.6" x2="117.5" y2="115.5" stroke="#f5b0b0" stroke-width="1.8"/>
<line x1="52.6" y1="104" x2="46" y2="110" stroke="#40b050" stroke-width="0.7"/>
<polygon points="47,108.2 51.2,111.5 43,115.5" fill="#18b030"/>
<line x1="43" y1="115.5" x2="41.8" y2="117" stroke="#333" stroke-width="0.8"/>
<polygon points="81.5,98.3 86,98.5 81.6,106.2" fill="#4a7fd0"/>
<polygon points="116.2,117.6 119.9,113.8 123.2,121" fill="#f25a5a"/>
<line x1="175.4" y1="103.9" x2="191.5" y2="91" stroke="#5cb85c" stroke-width="0.7"/>
<line x1="191.5" y1="91" x2="204" y2="96.5" stroke="#5cb85c" stroke-width="0.7"/>
<line x1="206" y1="96" x2="211.5" y2="76.5" stroke="#3a9a8a" stroke-width="0.7"/>
<line x1="208" y1="97" x2="228" y2="102.5" stroke="#f0a090" stroke-width="0.7"/>
<line x1="228" y1="102.5" x2="239.5" y2="114.5" stroke="#f5b0b0" stroke-width="1.8"/>
<line x1="175.4" y1="103.9" x2="170" y2="109" stroke="#40b050" stroke-width="0.7"/>
<polygon points="168.6,107.9 172.3,110.4 165.3,115.3" fill="#18b030"/>
<line x1="165.3" y1="115.3" x2="164.3" y2="116.8" stroke="#333" stroke-width="0.8"/>
<polygon points="205.5,97.5 209.5,98 204.5,105.5 202.8,105" fill="#4a7fd0"/>
<polygon points="236.8,116.3 240.8,111.9 245.3,119.8" fill="#f25a5a"/>
<text x="68.4" y="93.3" font-size="6.3" text-anchor="middle" fill="#333" stroke="#333" stroke-width="0.08">0</text>
<text x="88.1" y="78.7" font-size="6.3" text-anchor="middle" fill="#333" stroke="#333" stroke-width="0.08">5</text>
<text x="52.6" y="106.3" font-size="6.3" text-anchor="middle" fill="#333" stroke="#333" stroke-width="0.08">6</text>
<text x="83" y="99.0" font-size="6.3" text-anchor="middle" fill="#333" stroke="#333" stroke-width="0.08">103</text>
<text x="81.4" y="129.2" font-size="6.3" text-anchor="middle" fill="#333" stroke="#333" stroke-width="0.08">2</text>
<text x="98.5" y="129.7" font-size="6.3" text-anchor="middle" fill="#333" stroke="#333" stroke-width="0.08">4</text>
<text x="53.3" y="135.9" font-size="6.3" text-anchor="middle" fill="#333" stroke="#333" stroke-width="0.08">9</text>
<text x="105" y="104.8" font-size="6.3" text-anchor="middle" fill="#333" stroke="#333" stroke-width="0.08">1</text>
<text x="123.5" y="122.7" font-size="6.3" text-anchor="middle" fill="#3a2040" stroke="#3a2040" stroke-width="0.3">11</text>
<text x="144.6" y="130.8" font-size="6.3" text-anchor="middle" fill="#333" stroke="#333" stroke-width="0.08">12</text>
<text x="71.9" y="30.4" font-size="5.4" text-anchor="middle" fill="#4a2030" stroke="#4a2030" stroke-width="0.1">13</text>
<text x="80.2" y="107.2" font-size="6.3" text-anchor="middle" fill="#333" stroke="#333" stroke-width="0.08">3</text>
<text x="191.5" y="93.0" font-size="6.3" text-anchor="middle" fill="#333" stroke="#333" stroke-width="0.08">0</text>
<text x="211.5" y="78.7" font-size="6.3" text-anchor="middle" fill="#333" stroke="#333" stroke-width="0.08">5</text>
<text x="175.4" y="106.1" font-size="6.3" text-anchor="middle" fill="#333" stroke="#333" stroke-width="0.08">6</text>
<text x="205.7" y="98.7" font-size="6.3" text-anchor="middle" fill="#333" stroke="#333" stroke-width="0.08">103</text>
<text x="204" y="128.7" font-size="6.3" text-anchor="middle" fill="#333" stroke="#333" stroke-width="0.08">2</text>
<text x="221.3" y="128.7" font-size="6.3" text-anchor="middle" fill="#333" stroke="#333" stroke-width="0.08">4</text>
<text x="176" y="135.5" font-size="6.3" text-anchor="middle" fill="#333" stroke="#333" stroke-width="0.08">9</text>
<text x="228" y="104.7" font-size="6.3" text-anchor="middle" fill="#333" stroke="#333" stroke-width="0.08">1</text>
<text x="246.6" y="122.2" font-size="6.3" text-anchor="middle" fill="#3a2040" stroke="#3a2040" stroke-width="0.3">11</text>
<text x="195" y="30.4" font-size="5.4" text-anchor="middle" fill="#4a2030" stroke="#4a2030" stroke-width="0.1">13</text>
<text x="203.5" y="107.2" font-size="6.3" text-anchor="middle" fill="#333" stroke="#333" stroke-width="0.08">3</text>
<rect x="33.65" y="119.55" width="26.00" height="8.70" rx="1.6" fill="#fff" stroke="#4a4a4a" stroke-width="1.1"/>
<text x="46.7" y="126.0" font-size="5.7" text-anchor="middle" textLength="22.6" lengthAdjust="spacingAndGlyphs" fill="#2a2a2a" stroke="#2a2a2a" stroke-width="0.25">Lineage2</text>
<rect x="61.05" y="108.55" width="26.60" height="7.60" rx="1.6" fill="#fff" stroke="#4a4a4a" stroke-width="1.1"/>
<text x="74.3" y="113.9" font-size="5.7" text-anchor="middle" textLength="23.2" lengthAdjust="spacingAndGlyphs" fill="#2a2a2a" stroke="#2a2a2a" stroke-width="0.25">Lineage3</text>
<rect x="103.95" y="123.35" width="26.60" height="7.90" rx="1.6" fill="#fff" stroke="#4a4a4a" stroke-width="1.1"/>
<text x="117.2" y="129.0" font-size="5.7" text-anchor="middle" textLength="23.2" lengthAdjust="spacingAndGlyphs" fill="#2a2a2a" stroke="#2a2a2a" stroke-width="0.25">Lineage1</text>
<rect x="156.05" y="119.55" width="26.60" height="8.10" rx="1.6" fill="#fff" stroke="#4a4a4a" stroke-width="1.1"/>
<text x="169.3" y="125.4" font-size="5.7" text-anchor="middle" textLength="23.2" lengthAdjust="spacingAndGlyphs" fill="#2a2a2a" stroke="#2a2a2a" stroke-width="0.25">Lineage2</text>
<rect x="184.85" y="107.95" width="26.10" height="8.10" rx="1.6" fill="#fff" stroke="#4a4a4a" stroke-width="1.1"/>
<text x="197.9" y="113.8" font-size="5.7" text-anchor="middle" textLength="22.7" lengthAdjust="spacingAndGlyphs" fill="#2a2a2a" stroke="#2a2a2a" stroke-width="0.25">Lineage3</text>
<rect x="227.25" y="122.75" width="26.20" height="8.20" rx="1.6" fill="#fff" stroke="#4a4a4a" stroke-width="1.1"/>
<text x="240.3" y="128.7" font-size="5.7" text-anchor="middle" textLength="22.8" lengthAdjust="spacingAndGlyphs" fill="#2a2a2a" stroke="#2a2a2a" stroke-width="0.25">Lineage1</text>
<line x1="313" y1="42.7" x2="313" y2="128.2" stroke="#1a1a1a" stroke-width="1.3"/>
<line x1="309.6" y1="45" x2="313" y2="45" stroke="#222" stroke-width="1"/>
<text x="306.2" y="47.8" font-size="7.8" text-anchor="end" textLength="16.8" lengthAdjust="spacingAndGlyphs" fill="#333" stroke="#333" stroke-width="0.25">3000</text>
<line x1="309.6" y1="71.1" x2="313" y2="71.1" stroke="#222" stroke-width="1"/>
<text x="306.2" y="73.89999999999999" font-size="7.8" text-anchor="end" textLength="16.8" lengthAdjust="spacingAndGlyphs" fill="#333" stroke="#333" stroke-width="0.25">2000</text>
<line x1="309.6" y1="97.3" x2="313" y2="97.3" stroke="#222" stroke-width="1"/>
<text x="306.2" y="100.1" font-size="7.8" text-anchor="end" textLength="16.8" lengthAdjust="spacingAndGlyphs" fill="#333" stroke="#333" stroke-width="0.25">1000</text>
<line x1="309.6" y1="123.3" x2="313" y2="123.3" stroke="#222" stroke-width="1"/>
<text x="306.2" y="126.1" font-size="7.8" text-anchor="end" fill="#333" stroke="#333" stroke-width="0.25">0</text>
<text transform="translate(282.4,95.5) rotate(-90)" font-size="8.6" fill="#333" textLength="21.2" lengthAdjust="spacingAndGlyphs">Count</text>
<line x1="312.5" y1="127.6" x2="377.9" y2="127.6" stroke="#222" stroke-width="1.1"/>
<line x1="380.2" y1="127.6" x2="445.4" y2="127.6" stroke="#222" stroke-width="1.1"/>
<line x1="447.8" y1="127.6" x2="512.6" y2="127.6" stroke="#222" stroke-width="1.1"/>
<rect x="331.5" y="122.7" width="26" height="1.2" fill="#a6bcd8"/>
<rect x="341.00" y="56.8" width="3.00" height="66.70" fill="#17528c"/>
<rect x="339.20" y="69.5" width="6.80" height="54.00" fill="#17528c"/>
<rect x="337.70" y="93.8" width="9.80" height="29.70" fill="#17528c"/>
<rect x="335.50" y="113" width="14.00" height="10.50" fill="#17528c"/>
<rect x="333.50" y="121.2" width="18.30" height="2.30" fill="#17528c"/>
<rect x="395.8" y="122.7" width="27" height="1.2" fill="#a6bcd8"/>
<rect x="409.00" y="52.8" width="2.00" height="70.70" fill="#17528c"/>
<rect x="407.00" y="66.2" width="6.00" height="57.30" fill="#17528c"/>
<rect x="405.00" y="96" width="9.80" height="27.50" fill="#17528c"/>
<rect x="402.80" y="114.5" width="14.00" height="9.00" fill="#17528c"/>
<rect x="400.80" y="121.5" width="18.20" height="2.00" fill="#17528c"/>
<rect x="466.4" y="122.7" width="19.5" height="1.2" fill="#a6bcd8"/>
<rect x="475.90" y="35.5" width="2.30" height="88.00" fill="#17528c"/>
<rect x="478.20" y="61.7" width="1.40" height="61.80" fill="#17528c"/>
<rect x="474.00" y="69.6" width="1.90" height="53.90" fill="#17528c"/>
<rect x="472.20" y="93" width="1.80" height="30.50" fill="#17528c"/>
<rect x="479.50" y="104" width="2.30" height="19.50" fill="#17528c"/>
<rect x="470.10" y="119.8" width="14.00" height="3.70" fill="#17528c"/>
<line x1="323.6" y1="127.6" x2="323.6" y2="130.4" stroke="#222" stroke-width="1"/>
<text x="323.3" y="139.7" font-size="7.8" text-anchor="middle" fill="#333" stroke="#333" stroke-width="0.25">−1</text>
<line x1="342.5" y1="127.6" x2="342.5" y2="130.4" stroke="#222" stroke-width="1"/>
<text x="342.5" y="139.7" font-size="7.8" text-anchor="middle" fill="#333" stroke="#333" stroke-width="0.25">0</text>
<line x1="361.4" y1="127.6" x2="361.4" y2="130.4" stroke="#222" stroke-width="1"/>
<text x="361.1" y="139.7" font-size="7.8" text-anchor="middle" fill="#333" stroke="#333" stroke-width="0.25">+1</text>
<line x1="390.90000000000003" y1="127.6" x2="390.90000000000003" y2="130.4" stroke="#222" stroke-width="1"/>
<text x="390.6" y="139.7" font-size="7.8" text-anchor="middle" fill="#333" stroke="#333" stroke-width="0.25">−1</text>
<line x1="409.8" y1="127.6" x2="409.8" y2="130.4" stroke="#222" stroke-width="1"/>
<text x="409.8" y="139.7" font-size="7.8" text-anchor="middle" fill="#333" stroke="#333" stroke-width="0.25">0</text>
<line x1="428.7" y1="127.6" x2="428.7" y2="130.4" stroke="#222" stroke-width="1"/>
<text x="428.4" y="139.7" font-size="7.8" text-anchor="middle" fill="#333" stroke="#333" stroke-width="0.25">+1</text>
<line x1="458.5" y1="127.6" x2="458.5" y2="130.4" stroke="#222" stroke-width="1"/>
<text x="458.2" y="139.7" font-size="7.8" text-anchor="middle" fill="#333" stroke="#333" stroke-width="0.25">−1</text>
<line x1="477.4" y1="127.6" x2="477.4" y2="130.4" stroke="#222" stroke-width="1"/>
<text x="477.4" y="139.7" font-size="7.8" text-anchor="middle" fill="#333" stroke="#333" stroke-width="0.25">0</text>
<line x1="496.29999999999995" y1="127.6" x2="496.29999999999995" y2="130.4" stroke="#222" stroke-width="1"/>
<text x="496.0" y="139.7" font-size="7.8" text-anchor="middle" fill="#333" stroke="#333" stroke-width="0.25">+1</text>
<line x1="316.8" y1="31.3" x2="316.8" y2="127.2" stroke="#d83a5a" stroke-width="1.3"/>
<line x1="442.0" y1="31.3" x2="442.0" y2="127.2" stroke="#d83a5a" stroke-width="1.3"/>
<line x1="479.6" y1="31.3" x2="479.6" y2="127.2" stroke="#d83a5a" stroke-width="1.3"/>
<text x="321.7" y="26" font-size="7" textLength="47.8" lengthAdjust="spacingAndGlyphs" fill="#222" stroke="#222" stroke-width="0.12">Lineage 1 p=0</text>
<text x="389.2" y="26" font-size="7" textLength="48" lengthAdjust="spacingAndGlyphs" fill="#222" stroke="#222" stroke-width="0.12">Lineage 2 p=0</text>
<text x="450.1" y="26" font-size="7" textLength="61.1" lengthAdjust="spacingAndGlyphs" fill="#222" stroke="#222" stroke-width="0.12">Lineage 3 p=0.2565</text>
<text x="357.9" y="152.4" font-size="8.7" textLength="110.3" lengthAdjust="spacingAndGlyphs" fill="#222" stroke="#222" stroke-width="0.25">Null distribution for statistical test</text>
<text x="334.2" y="163.8" font-size="8.7" textLength="157.9" lengthAdjust="spacingAndGlyphs" fill="#222" stroke="#222" stroke-width="0.25">Significant value: &lt;−1 (unlikely) or &gt; +1 (likely)</text>
<rect x="76.70" y="218.00" width="42.80" height="23.47" fill="#b3b3d9"/>
<text x="97.95" y="231.99" font-size="6.5" text-anchor="middle" fill="#1e1e2a" stroke="#1e1e2a" stroke-width="0.1">31.2</text>
<rect x="119.20" y="218.00" width="42.80" height="23.47" fill="#e0dfef"/>
<text x="140.45" y="231.99" font-size="6.5" text-anchor="middle" fill="#1e1e2a" stroke="#1e1e2a" stroke-width="0.1">20.6</text>
<rect x="161.70" y="218.00" width="42.80" height="23.47" fill="#d7d7ea"/>
<text x="182.95" y="231.99" font-size="6.5" text-anchor="middle" fill="#1e1e2a" stroke="#1e1e2a" stroke-width="0.1">22.8</text>
<rect x="76.70" y="241.17" width="42.80" height="23.47" fill="#c4c4e1"/>
<text x="97.95" y="255.16" font-size="6.5" text-anchor="middle" fill="#1e1e2a" stroke="#1e1e2a" stroke-width="0.1">27.5</text>
<rect x="119.20" y="241.17" width="42.80" height="23.47" fill="#cdcde5"/>
<text x="140.45" y="255.16" font-size="6.5" text-anchor="middle" fill="#1e1e2a" stroke="#1e1e2a" stroke-width="0.1">25.3</text>
<rect x="161.70" y="241.17" width="42.80" height="23.47" fill="#fefeff"/>
<text x="182.95" y="255.16" font-size="6.5" text-anchor="middle" fill="#1e1e2a" stroke="#1e1e2a" stroke-width="0.1">14.7</text>
<rect x="76.70" y="264.34" width="42.80" height="23.47" fill="#475ba7"/>
<text x="97.95" y="278.33" font-size="6.5" text-anchor="middle" fill="#f4f4fa" stroke="#f4f4fa" stroke-width="0.1">53.7</text>
<rect x="119.20" y="264.34" width="42.80" height="23.47" fill="#6a72b4"/>
<text x="140.45" y="278.33" font-size="6.5" text-anchor="middle" fill="#f4f4fa" stroke="#f4f4fa" stroke-width="0.1">43.3</text>
<rect x="161.70" y="264.34" width="42.80" height="23.47" fill="#afafd7"/>
<text x="182.95" y="278.33" font-size="6.5" text-anchor="middle" fill="#1e1e2a" stroke="#1e1e2a" stroke-width="0.1">32.1</text>
<rect x="76.70" y="287.51" width="42.80" height="23.47" fill="#3e58a6"/>
<text x="97.95" y="301.50" font-size="6.5" text-anchor="middle" fill="#f4f4fa" stroke="#f4f4fa" stroke-width="0.1">58.8</text>
<rect x="119.20" y="287.51" width="42.80" height="23.47" fill="#4159a6"/>
<text x="140.45" y="301.50" font-size="6.5" text-anchor="middle" fill="#f4f4fa" stroke="#f4f4fa" stroke-width="0.1">56.7</text>
<rect x="161.70" y="287.51" width="42.80" height="23.47" fill="#5f6aae"/>
<text x="182.95" y="301.50" font-size="6.5" text-anchor="middle" fill="#f4f4fa" stroke="#f4f4fa" stroke-width="0.1">45.8</text>
<rect x="76.70" y="310.69" width="42.80" height="23.47" fill="#adadd6"/>
<text x="97.95" y="324.67" font-size="6.5" text-anchor="middle" fill="#1e1e2a" stroke="#1e1e2a" stroke-width="0.1">32.5</text>
<rect x="119.20" y="310.69" width="42.80" height="23.47" fill="#afafd6"/>
<text x="140.45" y="324.67" font-size="6.5" text-anchor="middle" fill="#1e1e2a" stroke="#1e1e2a" stroke-width="0.1">32.2</text>
<rect x="161.70" y="310.69" width="42.80" height="23.47" fill="#bbbbdc"/>
<text x="182.95" y="324.67" font-size="6.5" text-anchor="middle" fill="#1e1e2a" stroke="#1e1e2a" stroke-width="0.1">29.5</text>
<rect x="76.70" y="333.86" width="42.80" height="23.47" fill="#cecee6"/>
<text x="97.95" y="347.84" font-size="6.5" text-anchor="middle" fill="#1e1e2a" stroke="#1e1e2a" stroke-width="0.1">25.0</text>
<rect x="119.20" y="333.86" width="42.80" height="23.47" fill="#bcbcdd"/>
<text x="140.45" y="347.84" font-size="6.5" text-anchor="middle" fill="#1e1e2a" stroke="#1e1e2a" stroke-width="0.1">29.2</text>
<rect x="161.70" y="333.86" width="42.80" height="23.47" fill="#d7d7ea"/>
<text x="182.95" y="347.84" font-size="6.5" text-anchor="middle" fill="#1e1e2a" stroke="#1e1e2a" stroke-width="0.1">22.8</text>
<rect x="76.70" y="357.03" width="42.80" height="23.47" fill="#c4c4e1"/>
<text x="97.95" y="371.01" font-size="6.5" text-anchor="middle" fill="#1e1e2a" stroke="#1e1e2a" stroke-width="0.1">27.5</text>
<rect x="119.20" y="357.03" width="42.80" height="23.47" fill="#bcbcdd"/>
<text x="140.45" y="371.01" font-size="6.5" text-anchor="middle" fill="#1e1e2a" stroke="#1e1e2a" stroke-width="0.1">29.2</text>
<rect x="161.70" y="357.03" width="42.80" height="23.47" fill="#cdcde5"/>
<text x="182.95" y="371.01" font-size="6.5" text-anchor="middle" fill="#1e1e2a" stroke="#1e1e2a" stroke-width="0.1">25.3</text>
<rect x="76.7" y="218" width="127.49999999999999" height="162.2" fill="none" stroke="#111" stroke-width="1.3"/>
<line x1="73.3" y1="229.5857142857143" x2="76.7" y2="229.5857142857143" stroke="#222" stroke-width="1"/>
<text x="70.5" y="232.18571428571428" font-size="7.6" text-anchor="end" fill="#222" stroke="#222" stroke-width="0.25">PD1</text>
<line x1="73.3" y1="252.75714285714287" x2="76.7" y2="252.75714285714287" stroke="#222" stroke-width="1"/>
<text x="70.5" y="255.35714285714286" font-size="7.6" text-anchor="end" fill="#222" stroke="#222" stroke-width="0.25">Lag3</text>
<line x1="73.3" y1="275.92857142857144" x2="76.7" y2="275.92857142857144" stroke="#222" stroke-width="1"/>
<text x="70.5" y="278.52857142857147" font-size="7.6" text-anchor="end" fill="#222" stroke="#222" stroke-width="0.25">TIGIT</text>
<line x1="73.3" y1="299.1" x2="76.7" y2="299.1" stroke="#222" stroke-width="1"/>
<text x="70.5" y="301.70000000000005" font-size="7.6" text-anchor="end" fill="#222" stroke="#222" stroke-width="0.25">CTLA4</text>
<line x1="73.3" y1="322.2714285714286" x2="76.7" y2="322.2714285714286" stroke="#222" stroke-width="1"/>
<text x="70.5" y="324.8714285714286" font-size="7.6" text-anchor="end" fill="#222" stroke="#222" stroke-width="0.25">Tox</text>
<line x1="73.3" y1="345.4428571428571" x2="76.7" y2="345.4428571428571" stroke="#222" stroke-width="1"/>
<text x="70.5" y="348.04285714285714" font-size="7.6" text-anchor="end" fill="#222" stroke="#222" stroke-width="0.25">TNF</text>
<line x1="73.3" y1="368.6142857142857" x2="76.7" y2="368.6142857142857" stroke="#222" stroke-width="1"/>
<text x="70.5" y="371.2142857142857" font-size="7.6" text-anchor="end" fill="#222" stroke="#222" stroke-width="0.25">IFNγ</text>
<line x1="97.95" y1="380.2" x2="97.95" y2="383.2" stroke="#222" stroke-width="1"/>
<text x="97.95" y="394" font-size="8" text-anchor="middle" fill="#222" stroke="#222" stroke-width="0.25">2</text>
<line x1="140.45" y1="380.2" x2="140.45" y2="383.2" stroke="#222" stroke-width="1"/>
<text x="140.45" y="394" font-size="8" text-anchor="middle" fill="#222" stroke="#222" stroke-width="0.25">3</text>
<line x1="182.95" y1="380.2" x2="182.95" y2="383.2" stroke="#222" stroke-width="1"/>
<text x="182.95" y="394" font-size="8" text-anchor="middle" fill="#222" stroke="#222" stroke-width="0.25">4</text>
<text x="70.5" y="394" font-size="7.6" text-anchor="end" fill="#222" stroke="#222" stroke-width="0.25">Arm:</text>
<text x="106.9" y="211.9" font-size="10" fill="#222" textLength="49.3" lengthAdjust="spacingAndGlyphs">Cluster 0 (T</text>
<text x="156.2" y="214" font-size="7.5" fill="#222" stroke="#222" stroke-width="0.15" textLength="15" lengthAdjust="spacingAndGlyphs">EM3</text>
<text x="171.39999999999998" y="211.9" font-size="10" fill="#222">)</text>
<defs><linearGradient id="g215" x1="0" y1="1" x2="0" y2="0"><stop offset="0" stop-color="#fefeff"/><stop offset="0.14" stop-color="#dfdeee"/><stop offset="0.28" stop-color="#c6c6e2"/><stop offset="0.4" stop-color="#aeaed6"/><stop offset="0.45" stop-color="#a2a2d0"/><stop offset="0.53" stop-color="#878bc2"/><stop offset="0.65" stop-color="#6a72b4"/><stop offset="0.7" stop-color="#606aae"/><stop offset="0.89" stop-color="#465ba7"/><stop offset="1.0" stop-color="#3e58a6"/></linearGradient></defs>
<rect x="215.6" y="223.1" width="9.0" height="148.00000000000003" fill="url(#g215)" stroke="#222" stroke-width="0.9"/>
<line x1="215.6" y1="239.9" x2="217.1" y2="239.9" stroke="#222" stroke-width="1"/>
<line x1="223.1" y1="239.9" x2="224.6" y2="239.9" stroke="#222" stroke-width="1"/>
<text x="227.9" y="242.8" font-size="8" fill="#333" stroke="#333" stroke-width="0.25">80</text>
<line x1="215.6" y1="274.2" x2="217.1" y2="274.2" stroke="#222" stroke-width="1"/>
<line x1="223.1" y1="274.2" x2="224.6" y2="274.2" stroke="#222" stroke-width="1"/>
<text x="227.9" y="277.09999999999997" font-size="8" fill="#333" stroke="#333" stroke-width="0.25">60</text>
<line x1="215.6" y1="308.5" x2="217.1" y2="308.5" stroke="#222" stroke-width="1"/>
<line x1="223.1" y1="308.5" x2="224.6" y2="308.5" stroke="#222" stroke-width="1"/>
<text x="227.9" y="311.4" font-size="8" fill="#333" stroke="#333" stroke-width="0.25">40</text>
<line x1="215.6" y1="342.8" x2="217.1" y2="342.8" stroke="#222" stroke-width="1"/>
<line x1="223.1" y1="342.8" x2="224.6" y2="342.8" stroke="#222" stroke-width="1"/>
<text x="227.9" y="345.7" font-size="8" fill="#333" stroke="#333" stroke-width="0.25">20</text>
<rect x="299.50" y="217.80" width="42.27" height="23.76" fill="#606aae"/>
<text x="320.48" y="231.93" font-size="6.5" text-anchor="middle" fill="#f4f4fa" stroke="#f4f4fa" stroke-width="0.1">63.8</text>
<rect x="341.47" y="217.80" width="42.27" height="23.76" fill="#a3a3d0"/>
<text x="362.45" y="231.93" font-size="6.5" text-anchor="middle" fill="#1e1e2a" stroke="#1e1e2a" stroke-width="0.1">42.0</text>
<rect x="383.43" y="217.80" width="42.27" height="23.76" fill="#a1a1cf"/>
<text x="404.42" y="231.93" font-size="6.5" text-anchor="middle" fill="#1e1e2a" stroke="#1e1e2a" stroke-width="0.1">42.5</text>
<rect x="299.50" y="241.26" width="42.27" height="23.76" fill="#455ba7"/>
<text x="320.48" y="255.39" font-size="6.5" text-anchor="middle" fill="#f4f4fa" stroke="#f4f4fa" stroke-width="0.1">81.0</text>
<rect x="341.47" y="241.26" width="42.27" height="23.76" fill="#8388c0"/>
<text x="362.45" y="255.39" font-size="6.5" text-anchor="middle" fill="#1e1e2a" stroke="#1e1e2a" stroke-width="0.1">50.4</text>
<rect x="383.43" y="241.26" width="42.27" height="23.76" fill="#b4b4d9"/>
<text x="404.42" y="255.39" font-size="6.5" text-anchor="middle" fill="#1e1e2a" stroke="#1e1e2a" stroke-width="0.1">35.3</text>
<rect x="299.50" y="264.71" width="42.27" height="23.76" fill="#3e58a6"/>
<text x="320.48" y="278.84" font-size="6.5" text-anchor="middle" fill="#f4f4fa" stroke="#f4f4fa" stroke-width="0.1">89.7</text>
<rect x="341.47" y="264.71" width="42.27" height="23.76" fill="#5765ab"/>
<text x="362.45" y="278.84" font-size="6.5" text-anchor="middle" fill="#f4f4fa" stroke="#f4f4fa" stroke-width="0.1">69.7</text>
<rect x="383.43" y="264.71" width="42.27" height="23.76" fill="#676fb2"/>
<text x="404.42" y="278.84" font-size="6.5" text-anchor="middle" fill="#f4f4fa" stroke="#f4f4fa" stroke-width="0.1">60.9</text>
<rect x="299.50" y="288.17" width="42.27" height="23.76" fill="#4159a6"/>
<text x="320.48" y="302.30" font-size="6.5" text-anchor="middle" fill="#f4f4fa" stroke="#f4f4fa" stroke-width="0.1">86.2</text>
<rect x="341.47" y="288.17" width="42.27" height="23.76" fill="#4d5fa9"/>
<text x="362.45" y="302.30" font-size="6.5" text-anchor="middle" fill="#f4f4fa" stroke="#f4f4fa" stroke-width="0.1">75.6</text>
<rect x="383.43" y="288.17" width="42.27" height="23.76" fill="#8085bf"/>
<text x="404.42" y="302.30" font-size="6.5" text-anchor="middle" fill="#f4f4fa" stroke="#f4f4fa" stroke-width="0.1">51.7</text>
<rect x="299.50" y="311.63" width="42.27" height="23.76" fill="#8085bf"/>
<text x="320.48" y="325.76" font-size="6.5" text-anchor="middle" fill="#1e1e2a" stroke="#1e1e2a" stroke-width="0.1">51.7</text>
<rect x="341.47" y="311.63" width="42.27" height="23.76" fill="#b8b8db"/>
<text x="362.45" y="325.76" font-size="6.5" text-anchor="middle" fill="#1e1e2a" stroke="#1e1e2a" stroke-width="0.1">33.6</text>
<rect x="383.43" y="311.63" width="42.27" height="23.76" fill="#c8c8e3"/>
<text x="404.42" y="325.76" font-size="6.5" text-anchor="middle" fill="#1e1e2a" stroke="#1e1e2a" stroke-width="0.1">26.6</text>
<rect x="299.50" y="335.09" width="42.27" height="23.76" fill="#fefeff"/>
<text x="320.48" y="349.21" font-size="6.5" text-anchor="middle" fill="#1e1e2a" stroke="#1e1e2a" stroke-width="0.1">3.4</text>
<rect x="341.47" y="335.09" width="42.27" height="23.76" fill="#dcdbed"/>
<text x="362.45" y="349.21" font-size="6.5" text-anchor="middle" fill="#1e1e2a" stroke="#1e1e2a" stroke-width="0.1">16.8</text>
<rect x="383.43" y="335.09" width="42.27" height="23.76" fill="#d5d4e9"/>
<text x="404.42" y="349.21" font-size="6.5" text-anchor="middle" fill="#1e1e2a" stroke="#1e1e2a" stroke-width="0.1">20.3</text>
<rect x="299.50" y="358.54" width="42.27" height="23.76" fill="#8a8ec4"/>
<text x="320.48" y="372.67" font-size="6.5" text-anchor="middle" fill="#1e1e2a" stroke="#1e1e2a" stroke-width="0.1">48.3</text>
<rect x="341.47" y="358.54" width="42.27" height="23.76" fill="#898cc3"/>
<text x="362.45" y="372.67" font-size="6.5" text-anchor="middle" fill="#1e1e2a" stroke="#1e1e2a" stroke-width="0.1">48.7</text>
<rect x="383.43" y="358.54" width="42.27" height="23.76" fill="#7d82bd"/>
<text x="404.42" y="372.67" font-size="6.5" text-anchor="middle" fill="#1e1e2a" stroke="#1e1e2a" stroke-width="0.1">52.7</text>
<rect x="299.5" y="217.8" width="125.89999999999998" height="164.2" fill="none" stroke="#111" stroke-width="1.3"/>
<line x1="296.1" y1="229.52857142857144" x2="299.5" y2="229.52857142857144" stroke="#222" stroke-width="1"/>
<text x="293" y="232.12857142857143" font-size="7.6" text-anchor="end" fill="#222" stroke="#222" stroke-width="0.25">PD1</text>
<line x1="296.1" y1="252.9857142857143" x2="299.5" y2="252.9857142857143" stroke="#222" stroke-width="1"/>
<text x="293" y="255.5857142857143" font-size="7.6" text-anchor="end" fill="#222" stroke="#222" stroke-width="0.25">Lag3</text>
<line x1="296.1" y1="276.4428571428572" x2="299.5" y2="276.4428571428572" stroke="#222" stroke-width="1"/>
<text x="293" y="279.0428571428572" font-size="7.6" text-anchor="end" fill="#222" stroke="#222" stroke-width="0.25">TIGIT</text>
<line x1="296.1" y1="299.9" x2="299.5" y2="299.9" stroke="#222" stroke-width="1"/>
<text x="293" y="302.5" font-size="7.6" text-anchor="end" fill="#222" stroke="#222" stroke-width="0.25">CTLA4</text>
<line x1="296.1" y1="323.3571428571429" x2="299.5" y2="323.3571428571429" stroke="#222" stroke-width="1"/>
<text x="293" y="325.9571428571429" font-size="7.6" text-anchor="end" fill="#222" stroke="#222" stroke-width="0.25">Tox</text>
<line x1="296.1" y1="346.8142857142857" x2="299.5" y2="346.8142857142857" stroke="#222" stroke-width="1"/>
<text x="293" y="349.4142857142857" font-size="7.6" text-anchor="end" fill="#222" stroke="#222" stroke-width="0.25">TNF</text>
<line x1="296.1" y1="370.2714285714286" x2="299.5" y2="370.2714285714286" stroke="#222" stroke-width="1"/>
<text x="293" y="372.8714285714286" font-size="7.6" text-anchor="end" fill="#222" stroke="#222" stroke-width="0.25">IFNγ</text>
<line x1="320.48333333333335" y1="382" x2="320.48333333333335" y2="385" stroke="#222" stroke-width="1"/>
<text x="320.48333333333335" y="394" font-size="8" text-anchor="middle" fill="#222" stroke="#222" stroke-width="0.25">2</text>
<line x1="362.45" y1="382" x2="362.45" y2="385" stroke="#222" stroke-width="1"/>
<text x="362.45" y="394" font-size="8" text-anchor="middle" fill="#222" stroke="#222" stroke-width="0.25">3</text>
<line x1="404.41666666666663" y1="382" x2="404.41666666666663" y2="385" stroke="#222" stroke-width="1"/>
<text x="404.41666666666663" y="394" font-size="8" text-anchor="middle" fill="#222" stroke="#222" stroke-width="0.25">4</text>
<text x="293" y="394" font-size="7.6" text-anchor="end" fill="#222" stroke="#222" stroke-width="0.25">Arm:</text>
<text x="325" y="211.9" font-size="10" fill="#222" textLength="48.6" lengthAdjust="spacingAndGlyphs">Cluster 6 (T</text>
<text x="373.6" y="214" font-size="7.5" fill="#222" stroke="#222" stroke-width="0.15" textLength="24" lengthAdjust="spacingAndGlyphs">hctx-ex</text>
<text x="397.8" y="211.9" font-size="10" fill="#222">)</text>
<defs><linearGradient id="g434" x1="0" y1="1" x2="0" y2="0"><stop offset="0" stop-color="#fefeff"/><stop offset="0.14" stop-color="#dfdeee"/><stop offset="0.28" stop-color="#c6c6e2"/><stop offset="0.4" stop-color="#aeaed6"/><stop offset="0.45" stop-color="#a2a2d0"/><stop offset="0.53" stop-color="#878bc2"/><stop offset="0.65" stop-color="#6a72b4"/><stop offset="0.7" stop-color="#606aae"/><stop offset="0.89" stop-color="#465ba7"/><stop offset="1.0" stop-color="#3e58a6"/></linearGradient></defs>
<rect x="434" y="230.3" width="8.199999999999989" height="147.89999999999998" fill="url(#g434)" stroke="#222" stroke-width="0.9"/>
<line x1="434" y1="247.2" x2="435.5" y2="247.2" stroke="#222" stroke-width="1"/>
<line x1="440.7" y1="247.2" x2="442.2" y2="247.2" stroke="#222" stroke-width="1"/>
<text x="445.5" y="250.1" font-size="8" fill="#333" stroke="#333" stroke-width="0.25">80</text>
<line x1="434" y1="281.4" x2="435.5" y2="281.4" stroke="#222" stroke-width="1"/>
<line x1="440.7" y1="281.4" x2="442.2" y2="281.4" stroke="#222" stroke-width="1"/>
<text x="445.5" y="284.29999999999995" font-size="8" fill="#333" stroke="#333" stroke-width="0.25">60</text>
<line x1="434" y1="315.6" x2="435.5" y2="315.6" stroke="#222" stroke-width="1"/>
<line x1="440.7" y1="315.6" x2="442.2" y2="315.6" stroke="#222" stroke-width="1"/>
<text x="445.5" y="318.5" font-size="8" fill="#333" stroke="#333" stroke-width="0.25">40</text>
<line x1="434" y1="349.8" x2="435.5" y2="349.8" stroke="#222" stroke-width="1"/>
<line x1="440.7" y1="349.8" x2="442.2" y2="349.8" stroke="#222" stroke-width="1"/>
<text x="445.5" y="352.7" font-size="8" fill="#333" stroke="#333" stroke-width="0.25">20</text>
<rect x="0.5" y="0.5" width="519" height="400" fill="none" stroke="#000" stroke-width="1"/></svg></body></html>
